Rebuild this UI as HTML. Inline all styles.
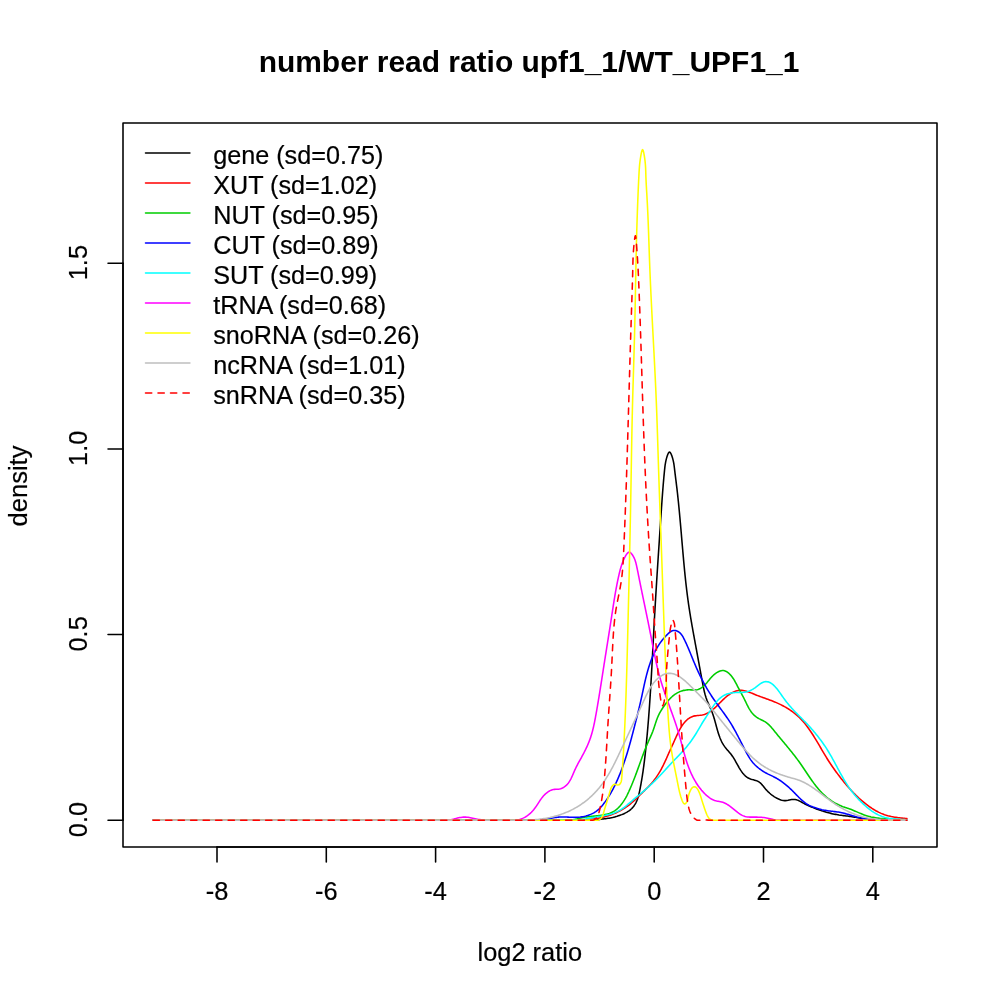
<!DOCTYPE html>
<html lang="en"><head><meta charset="utf-8"><title>number read ratio upf1_1/WT_UPF1_1</title>
<style>html,body{margin:0;padding:0;background:#fff}svg{display:block}</style></head>
<body>
<svg width="1000" height="1000" viewBox="0 0 1000 1000">
<rect width="1000" height="1000" fill="#fff"/>
<g fill="none" stroke-width="1.5625" stroke-linecap="round" stroke-linejoin="round">
<path d="M153.15,820.19 L553.98,820.19 L555.19,820.19 L567.22,820.19 L568.41,820.19 L569.61,820.19 L570.80,820.19 L571.99,820.19 L573.19,820.18 L574.38,820.18 L575.57,820.18 L576.76,820.18 L577.96,820.18 L579.15,820.18 L580.34,820.19 L581.54,820.19 L582.73,820.19 L583.93,820.19 L592.32,820.19 L593.53,820.18 L594.73,820.09 L595.94,819.96 L597.14,819.80 L598.35,819.63 L599.55,819.44 L600.75,819.26 L601.95,819.09 L603.15,818.94 L604.34,818.80 L605.53,818.66 L606.72,818.51 L607.90,818.34 L609.08,818.16 L610.26,817.95 L611.43,817.72 L612.59,817.47 L613.75,817.19 L614.91,816.89 L616.05,816.57 L617.19,816.23 L618.33,815.86 L619.45,815.47 L620.57,815.06 L621.68,814.63 L622.78,814.17 L623.86,813.69 L624.94,813.18 L625.99,812.64 L627.03,812.06 L628.04,811.44 L629.02,810.78 L629.97,810.07 L630.88,809.30 L631.76,808.48 L632.59,807.60 L633.38,806.66 L634.12,805.67 L634.81,804.64 L635.45,803.58 L636.02,802.51 L636.55,801.42 L637.02,800.31 L637.45,799.19 L637.84,798.07 L638.19,796.93 L638.52,795.78 L638.82,794.62 L639.09,793.46 L639.35,792.30 L639.60,791.13 L639.84,789.96 L640.07,788.78 L640.30,787.61 L640.52,786.44 L640.74,785.26 L640.96,784.08 L641.17,782.90 L641.37,781.72 L641.58,780.54 L641.77,779.36 L641.97,778.18 L642.16,777.00 L642.35,775.82 L642.53,774.63 L642.71,773.45 L642.89,772.26 L643.06,771.07 L643.23,769.89 L643.39,768.70 L643.56,767.51 L643.72,766.32 L643.87,765.13 L644.03,763.94 L644.18,762.75 L644.33,761.56 L644.48,760.37 L644.62,759.18 L644.76,757.98 L644.90,756.79 L645.04,755.60 L645.17,754.41 L645.31,753.21 L645.44,752.02 L645.57,750.83 L645.70,749.63 L645.82,748.44 L645.95,747.24 L646.07,746.05 L646.19,744.86 L646.31,743.66 L646.43,742.47 L646.55,741.27 L646.66,740.08 L646.78,738.89 L646.89,737.69 L647.01,736.50 L647.12,735.30 L647.23,734.11 L647.34,732.91 L647.44,731.72 L647.55,730.53 L647.65,729.33 L647.76,728.14 L647.86,726.94 L647.96,725.75 L648.06,724.55 L648.16,723.36 L648.26,722.16 L648.36,720.97 L648.45,719.77 L648.55,718.58 L648.64,717.38 L648.73,716.19 L648.82,715.00 L648.91,713.80 L649.00,712.61 L649.09,711.41 L649.18,710.22 L649.27,709.02 L649.35,707.83 L649.44,706.63 L649.52,705.43 L649.61,704.24 L649.69,703.04 L649.77,701.85 L649.85,700.65 L649.93,699.46 L650.01,698.26 L650.09,697.07 L650.17,695.87 L650.25,694.68 L650.32,693.48 L650.40,692.29 L650.47,691.09 L650.55,689.90 L650.62,688.70 L650.70,687.50 L650.77,686.31 L650.84,685.11 L650.91,683.92 L650.98,682.72 L651.05,681.53 L651.12,680.33 L651.19,679.13 L651.26,677.94 L651.33,676.74 L651.40,675.55 L651.47,674.35 L651.53,673.16 L651.60,671.96 L651.67,670.76 L651.73,669.57 L651.80,668.37 L651.87,667.18 L651.93,665.98 L652.00,664.78 L652.06,663.59 L652.12,662.39 L652.19,661.19 L652.25,660.00 L652.32,658.80 L652.38,657.61 L652.44,656.41 L652.51,655.21 L652.57,654.02 L652.63,652.82 L652.69,651.62 L652.76,650.43 L652.82,649.23 L652.88,648.04 L652.94,646.84 L653.01,645.64 L653.07,644.45 L653.13,643.25 L653.19,642.05 L653.26,640.86 L653.32,639.66 L653.38,638.46 L653.44,637.27 L653.51,636.07 L653.57,634.87 L653.63,633.68 L653.70,632.48 L653.76,631.28 L653.82,630.09 L653.89,628.89 L653.95,627.69 L654.01,626.50 L654.08,625.30 L654.14,624.10 L654.21,622.91 L654.27,621.71 L654.34,620.51 L654.41,619.32 L654.47,618.12 L654.54,616.92 L654.61,615.73 L654.67,614.53 L654.74,613.33 L654.81,612.14 L654.88,610.94 L654.95,609.74 L655.02,608.54 L655.09,607.35 L655.16,606.15 L655.23,604.95 L655.30,603.76 L655.37,602.56 L655.44,601.36 L655.51,600.17 L655.58,598.97 L655.65,597.77 L655.72,596.57 L655.79,595.38 L655.87,594.18 L655.94,592.98 L656.01,591.79 L656.09,590.59 L656.16,589.39 L656.23,588.19 L656.31,587.00 L656.38,585.80 L656.46,584.60 L656.53,583.41 L656.61,582.21 L656.68,581.01 L656.76,579.81 L656.83,578.62 L656.91,577.42 L656.98,576.22 L657.06,575.02 L657.13,573.83 L657.21,572.63 L657.29,571.43 L657.36,570.24 L657.44,569.04 L657.52,567.84 L657.60,566.64 L657.67,565.45 L657.75,564.25 L657.83,563.05 L657.91,561.85 L657.98,560.66 L658.06,559.46 L658.14,558.26 L658.22,557.07 L658.30,555.87 L658.38,554.67 L658.45,553.47 L658.53,552.28 L658.61,551.08 L658.69,549.88 L658.77,548.68 L658.85,547.49 L658.93,546.29 L659.01,545.09 L659.09,543.89 L659.17,542.70 L659.25,541.50 L659.33,540.30 L659.41,539.11 L659.48,537.91 L659.56,536.71 L659.64,535.51 L659.72,534.32 L659.80,533.12 L659.88,531.92 L659.96,530.72 L660.04,529.53 L660.12,528.33 L660.20,527.13 L660.28,525.93 L660.36,524.74 L660.44,523.54 L660.52,522.34 L660.60,521.14 L660.68,519.95 L660.76,518.75 L660.84,517.55 L660.92,516.36 L661.00,515.16 L661.09,513.96 L661.17,512.76 L661.25,511.57 L661.33,510.37 L661.41,509.17 L661.49,507.98 L661.57,506.78 L661.66,505.59 L661.74,504.39 L661.82,503.20 L661.91,502.00 L661.99,500.81 L662.08,499.61 L662.16,498.42 L662.25,497.23 L662.34,496.03 L662.43,494.84 L662.52,493.65 L662.61,492.46 L662.70,491.27 L662.79,490.08 L662.89,488.89 L662.98,487.70 L663.08,486.51 L663.17,485.33 L663.27,484.14 L663.37,482.95 L663.47,481.77 L663.58,480.59 L663.68,479.40 L663.78,478.22 L663.89,477.04 L664.00,475.86 L664.11,474.68 L664.22,473.50 L664.33,472.32 L664.45,471.14 L664.56,469.97 L664.69,468.79 L664.81,467.61 L664.96,466.43 L665.11,465.24 L665.29,464.04 L665.50,462.84 L665.73,461.62 L666.00,460.38 L666.30,459.13 L666.65,457.86 L667.04,456.57 L667.48,455.26 L667.97,454.01 L668.50,452.97 L669.05,452.28 L669.63,452.11 L670.21,452.50 L670.78,453.35 L671.33,454.52 L671.84,455.86 L672.30,457.24 L672.70,458.58 L673.04,459.86 L673.33,461.10 L673.58,462.30 L673.79,463.48 L673.97,464.63 L674.13,465.76 L674.28,466.89 L674.41,468.02 L674.55,469.15 L674.68,470.29 L674.82,471.45 L674.96,472.61 L675.11,473.78 L675.25,474.96 L675.40,476.15 L675.55,477.34 L675.70,478.54 L675.85,479.74 L676.00,480.95 L676.15,482.16 L676.30,483.36 L676.45,484.57 L676.60,485.78 L676.74,486.99 L676.89,488.19 L677.03,489.39 L677.17,490.59 L677.30,491.78 L677.44,492.97 L677.57,494.17 L677.70,495.36 L677.83,496.54 L677.95,497.73 L678.08,498.92 L678.20,500.10 L678.33,501.29 L678.45,502.47 L678.57,503.66 L678.68,504.84 L678.80,506.03 L678.92,507.21 L679.03,508.40 L679.15,509.59 L679.26,510.77 L679.37,511.96 L679.48,513.15 L679.59,514.34 L679.70,515.54 L679.81,516.73 L679.92,517.92 L680.03,519.11 L680.14,520.31 L680.24,521.50 L680.35,522.70 L680.46,523.89 L680.56,525.09 L680.67,526.28 L680.77,527.48 L680.87,528.68 L680.98,529.88 L681.08,531.07 L681.18,532.27 L681.29,533.47 L681.39,534.67 L681.49,535.87 L681.59,537.07 L681.70,538.26 L681.80,539.46 L681.90,540.66 L682.00,541.86 L682.11,543.06 L682.21,544.26 L682.31,545.46 L682.42,546.66 L682.52,547.86 L682.62,549.05 L682.73,550.25 L682.83,551.45 L682.94,552.65 L683.04,553.84 L683.15,555.04 L683.25,556.24 L683.36,557.43 L683.47,558.63 L683.57,559.82 L683.68,561.02 L683.79,562.21 L683.90,563.40 L684.01,564.60 L684.12,565.79 L684.24,566.98 L684.35,568.18 L684.47,569.37 L684.58,570.56 L684.70,571.75 L684.82,572.94 L684.94,574.13 L685.06,575.32 L685.18,576.51 L685.31,577.70 L685.43,578.89 L685.56,580.08 L685.69,581.27 L685.82,582.46 L685.95,583.64 L686.08,584.83 L686.22,586.02 L686.36,587.21 L686.50,588.39 L686.64,589.58 L686.78,590.77 L686.93,591.95 L687.08,593.14 L687.23,594.32 L687.38,595.51 L687.53,596.69 L687.69,597.88 L687.85,599.06 L688.01,600.25 L688.18,601.43 L688.34,602.62 L688.51,603.80 L688.68,604.99 L688.86,606.17 L689.04,607.35 L689.22,608.54 L689.40,609.72 L689.58,610.91 L689.77,612.09 L689.96,613.27 L690.15,614.46 L690.34,615.64 L690.54,616.82 L690.73,618.01 L690.93,619.19 L691.13,620.37 L691.34,621.55 L691.54,622.74 L691.74,623.92 L691.95,625.10 L692.16,626.28 L692.37,627.47 L692.58,628.65 L692.79,629.83 L693.00,631.02 L693.21,632.20 L693.43,633.38 L693.64,634.56 L693.86,635.75 L694.08,636.93 L694.29,638.11 L694.51,639.30 L694.73,640.48 L694.95,641.66 L695.16,642.85 L695.38,644.03 L695.60,645.21 L695.82,646.40 L696.04,647.58 L696.26,648.76 L696.48,649.95 L696.70,651.13 L696.91,652.31 L697.13,653.50 L697.35,654.68 L697.56,655.87 L697.78,657.05 L698.00,658.24 L698.21,659.42 L698.43,660.60 L698.65,661.79 L698.86,662.97 L699.08,664.15 L699.29,665.33 L699.51,666.52 L699.73,667.70 L699.94,668.88 L700.16,670.05 L700.38,671.23 L700.59,672.41 L700.81,673.58 L701.03,674.76 L701.25,675.93 L701.47,677.11 L701.69,678.28 L701.91,679.45 L702.13,680.61 L702.35,681.78 L702.57,682.95 L702.79,684.11 L703.02,685.27 L703.25,686.43 L703.48,687.59 L703.72,688.75 L703.97,689.90 L704.23,691.05 L704.50,692.20 L704.79,693.35 L705.09,694.50 L705.42,695.64 L705.77,696.78 L706.14,697.92 L706.54,699.05 L706.96,700.19 L707.42,701.32 L707.89,702.44 L708.38,703.57 L708.88,704.69 L709.39,705.82 L709.90,706.94 L710.40,708.06 L710.89,709.18 L711.36,710.31 L711.81,711.43 L712.24,712.55 L712.65,713.67 L713.03,714.80 L713.41,715.93 L713.77,717.06 L714.11,718.19 L714.45,719.32 L714.77,720.46 L715.09,721.60 L715.40,722.74 L715.72,723.89 L716.03,725.04 L716.34,726.20 L716.65,727.36 L716.97,728.52 L717.30,729.68 L717.63,730.85 L717.98,732.00 L718.34,733.16 L718.71,734.31 L719.10,735.45 L719.51,736.58 L719.93,737.70 L720.38,738.82 L720.86,739.92 L721.36,741.00 L721.89,742.07 L722.45,743.12 L723.04,744.16 L723.67,745.17 L724.33,746.16 L725.03,747.13 L725.76,748.08 L726.53,749.01 L727.32,749.92 L728.12,750.83 L728.92,751.73 L729.70,752.65 L730.47,753.57 L731.21,754.51 L731.92,755.46 L732.60,756.44 L733.25,757.43 L733.87,758.44 L734.48,759.45 L735.08,760.48 L735.67,761.52 L736.25,762.56 L736.82,763.61 L737.40,764.66 L737.99,765.71 L738.59,766.76 L739.19,767.81 L739.82,768.85 L740.47,769.89 L741.14,770.91 L741.84,771.92 L742.58,772.89 L743.34,773.83 L744.15,774.73 L744.99,775.57 L745.88,776.36 L746.82,777.08 L747.81,777.72 L748.85,778.29 L749.94,778.76 L751.08,779.17 L752.25,779.52 L753.43,779.84 L754.60,780.16 L755.75,780.50 L756.86,780.88 L757.93,781.33 L758.93,781.87 L759.88,782.53 L760.76,783.32 L761.58,784.19 L762.38,785.13 L763.16,786.10 L763.93,787.08 L764.71,788.03 L765.51,788.97 L766.32,789.88 L767.15,790.76 L767.99,791.61 L768.85,792.44 L769.73,793.24 L770.63,794.02 L771.54,794.76 L772.48,795.47 L773.44,796.15 L774.43,796.80 L775.44,797.41 L776.47,797.99 L777.53,798.53 L778.62,799.04 L779.73,799.52 L780.87,799.93 L782.03,800.28 L783.21,800.52 L784.40,800.65 L785.61,800.65 L786.82,800.51 L788.03,800.30 L789.25,800.05 L790.45,799.80 L791.65,799.59 L792.84,799.46 L794.02,799.43 L795.17,799.53 L796.30,799.77 L797.42,800.13 L798.52,800.57 L799.61,801.09 L800.69,801.66 L801.76,802.26 L802.82,802.85 L803.88,803.43 L804.95,803.98 L806.01,804.51 L807.08,805.01 L808.15,805.50 L809.24,805.99 L810.33,806.47 L811.43,806.94 L812.54,807.40 L813.65,807.85 L814.78,808.30 L815.90,808.74 L817.04,809.16 L818.17,809.58 L819.31,809.98 L820.46,810.38 L821.61,810.76 L822.76,811.13 L823.91,811.49 L825.06,811.84 L826.22,812.17 L827.37,812.49 L828.53,812.80 L829.69,813.10 L830.86,813.38 L832.02,813.65 L833.18,813.91 L834.35,814.15 L835.52,814.38 L836.69,814.60 L837.86,814.80 L839.03,815.00 L840.21,815.17 L841.38,815.34 L842.56,815.49 L843.74,815.64 L844.91,815.78 L846.09,815.91 L847.28,816.06 L848.46,816.21 L849.64,816.37 L850.82,816.54 L852.01,816.72 L853.20,816.92 L854.38,817.13 L855.57,817.34 L856.76,817.55 L857.95,817.77 L859.14,817.98 L860.33,818.19 L861.52,818.40 L862.71,818.59 L863.91,818.78 L865.10,818.95 L866.29,819.10 L867.49,819.24 L868.68,819.36 L869.88,819.47 L871.07,819.57 L872.27,819.66 L873.46,819.74 L874.66,819.80 L875.86,819.86 L877.05,819.91 L878.25,819.95 L879.45,819.99 L880.65,820.02 L881.84,820.05 L883.04,820.07 L884.24,820.09 L885.43,820.11 L886.63,820.12 L887.83,820.14 L889.03,820.16 L890.22,820.18 L891.42,820.19 L899.79,820.19 L900.98,820.18 L906.85,820.19" stroke="#000000"/>
<path d="M153.15,820.19 L544.20,820.19 L545.40,820.17 L546.60,820.15 L547.79,820.13 L548.99,820.12 L550.19,820.12 L551.39,820.12 L552.59,820.12 L553.78,820.13 L554.98,820.14 L556.18,820.15 L557.38,820.17 L558.58,820.18 L559.78,820.19 L577.78,820.19 L578.97,820.16 L580.17,820.11 L581.37,820.05 L582.56,819.99 L583.76,819.91 L584.95,819.83 L586.14,819.74 L587.34,819.64 L588.53,819.53 L589.72,819.41 L590.91,819.27 L592.10,819.13 L593.29,818.97 L594.48,818.80 L595.66,818.62 L596.85,818.43 L598.03,818.22 L599.21,818.00 L600.39,817.76 L601.56,817.51 L602.73,817.25 L603.90,816.96 L605.06,816.66 L606.22,816.35 L607.37,816.02 L608.52,815.67 L609.66,815.30 L610.79,814.91 L611.92,814.50 L613.04,814.07 L614.15,813.63 L615.25,813.16 L616.35,812.67 L617.43,812.16 L618.51,811.63 L619.57,811.08 L620.63,810.51 L621.68,809.92 L622.71,809.31 L623.73,808.69 L624.74,808.04 L625.74,807.37 L626.72,806.69 L627.70,805.99 L628.65,805.27 L629.60,804.54 L630.53,803.79 L631.45,803.02 L632.35,802.24 L633.25,801.44 L634.14,800.64 L635.02,799.83 L635.89,799.00 L636.76,798.17 L637.62,797.34 L638.48,796.50 L639.34,795.65 L640.19,794.81 L641.04,793.96 L641.90,793.11 L642.76,792.27 L643.62,791.42 L644.48,790.58 L645.34,789.74 L646.20,788.90 L647.06,788.06 L647.91,787.21 L648.75,786.35 L649.58,785.48 L650.39,784.61 L651.19,783.72 L651.98,782.82 L652.74,781.90 L653.50,780.98 L654.23,780.04 L654.95,779.09 L655.65,778.12 L656.34,777.15 L657.02,776.16 L657.67,775.17 L658.32,774.16 L658.95,773.15 L659.56,772.13 L660.16,771.10 L660.75,770.06 L661.33,769.01 L661.89,767.96 L662.44,766.90 L662.98,765.83 L663.51,764.76 L664.03,763.68 L664.54,762.60 L665.04,761.51 L665.54,760.42 L666.04,759.32 L666.54,758.22 L667.03,757.12 L667.52,756.01 L668.01,754.91 L668.51,753.80 L669.00,752.69 L669.50,751.58 L670.00,750.47 L670.51,749.36 L671.01,748.25 L671.51,747.14 L672.02,746.03 L672.52,744.92 L673.02,743.82 L673.52,742.72 L674.02,741.62 L674.52,740.53 L675.01,739.44 L675.50,738.35 L675.99,737.27 L676.48,736.19 L676.96,735.12 L677.46,734.06 L677.96,733.00 L678.47,731.95 L679.00,730.90 L679.54,729.87 L680.11,728.84 L680.70,727.82 L681.32,726.81 L681.97,725.81 L682.65,724.82 L683.37,723.84 L684.12,722.89 L684.91,721.97 L685.74,721.08 L686.61,720.24 L687.51,719.45 L688.46,718.71 L689.45,718.04 L690.48,717.44 L691.55,716.91 L692.65,716.47 L693.79,716.12 L694.95,715.86 L696.13,715.68 L697.33,715.54 L698.53,715.43 L699.74,715.32 L700.93,715.18 L702.12,714.99 L703.29,714.73 L704.43,714.39 L705.56,713.99 L706.66,713.53 L707.74,713.01 L708.79,712.43 L709.81,711.81 L710.80,711.14 L711.77,710.44 L712.71,709.70 L713.64,708.93 L714.54,708.13 L715.42,707.31 L716.29,706.48 L717.16,705.63 L718.01,704.77 L718.86,703.92 L719.70,703.06 L720.55,702.20 L721.40,701.34 L722.25,700.50 L723.11,699.66 L723.98,698.84 L724.86,698.03 L725.76,697.24 L726.68,696.46 L727.62,695.71 L728.58,694.99 L729.56,694.29 L730.57,693.63 L731.62,693.00 L732.68,692.41 L733.77,691.89 L734.88,691.42 L736.01,691.03 L737.15,690.72 L738.31,690.50 L739.47,690.38 L740.64,690.35 L741.82,690.40 L742.99,690.53 L744.16,690.72 L745.33,690.98 L746.48,691.29 L747.62,691.64 L748.75,692.03 L749.87,692.44 L750.99,692.89 L752.11,693.34 L753.22,693.81 L754.33,694.27 L755.45,694.73 L756.57,695.17 L757.70,695.61 L758.83,696.04 L759.96,696.46 L761.09,696.87 L762.23,697.29 L763.37,697.69 L764.50,698.10 L765.64,698.51 L766.78,698.91 L767.91,699.32 L769.04,699.74 L770.17,700.16 L771.30,700.58 L772.43,701.01 L773.55,701.45 L774.66,701.91 L775.78,702.37 L776.88,702.85 L777.98,703.34 L779.07,703.84 L780.16,704.36 L781.24,704.90 L782.30,705.45 L783.36,706.01 L784.42,706.59 L785.46,707.18 L786.49,707.78 L787.51,708.40 L788.51,709.03 L789.51,709.68 L790.49,710.33 L791.46,711.00 L792.42,711.69 L793.36,712.38 L794.29,713.10 L795.21,713.83 L796.11,714.57 L797.01,715.34 L797.89,716.12 L798.75,716.93 L799.61,717.75 L800.45,718.60 L801.28,719.47 L802.10,720.36 L802.91,721.26 L803.70,722.18 L804.49,723.12 L805.26,724.07 L806.02,725.03 L806.77,726.00 L807.50,726.99 L808.23,727.98 L808.94,728.97 L809.64,729.97 L810.33,730.98 L811.01,731.98 L811.68,732.99 L812.34,734.00 L813.00,735.01 L813.64,736.03 L814.27,737.04 L814.90,738.06 L815.52,739.08 L816.14,740.10 L816.75,741.12 L817.36,742.14 L817.96,743.16 L818.56,744.18 L819.16,745.20 L819.76,746.23 L820.35,747.25 L820.95,748.27 L821.54,749.30 L822.14,750.32 L822.74,751.34 L823.34,752.36 L823.94,753.38 L824.55,754.40 L825.16,755.42 L825.78,756.44 L826.40,757.45 L827.03,758.47 L827.66,759.48 L828.31,760.49 L828.96,761.50 L829.61,762.50 L830.28,763.51 L830.95,764.51 L831.62,765.51 L832.30,766.51 L832.99,767.50 L833.69,768.49 L834.39,769.48 L835.09,770.46 L835.80,771.44 L836.52,772.42 L837.24,773.39 L837.96,774.36 L838.69,775.33 L839.43,776.29 L840.17,777.25 L840.91,778.20 L841.66,779.15 L842.41,780.09 L843.16,781.03 L843.92,781.96 L844.68,782.89 L845.45,783.81 L846.22,784.73 L847.00,785.64 L847.78,786.54 L848.56,787.44 L849.35,788.33 L850.15,789.22 L850.95,790.10 L851.76,790.98 L852.58,791.84 L853.40,792.70 L854.23,793.56 L855.07,794.40 L855.92,795.24 L856.77,796.07 L857.63,796.90 L858.50,797.71 L859.38,798.52 L860.27,799.32 L861.17,800.11 L862.07,800.89 L862.99,801.67 L863.92,802.43 L864.85,803.19 L865.80,803.94 L866.76,804.68 L867.73,805.41 L868.71,806.12 L869.70,806.82 L870.70,807.51 L871.70,808.19 L872.72,808.84 L873.75,809.48 L874.79,810.10 L875.83,810.70 L876.89,811.28 L877.95,811.84 L879.02,812.38 L880.10,812.89 L881.19,813.38 L882.29,813.84 L883.39,814.27 L884.51,814.68 L885.63,815.06 L886.76,815.40 L887.89,815.73 L889.03,816.02 L890.18,816.29 L891.34,816.55 L892.50,816.78 L893.67,816.99 L894.85,817.18 L896.03,817.36 L897.22,817.53 L898.42,817.69 L899.62,817.84 L900.82,817.97 L902.03,818.11 L903.25,818.23 L904.47,818.36 L905.70,818.48 L906.93,818.61" stroke="#FF0000"/>
<path d="M153.15,820.19 L532.03,820.18 L533.21,820.19 L545.16,820.19 L546.37,820.18 L547.58,820.18 L548.79,820.17 L550.00,820.17 L551.21,820.16 L552.42,820.16 L553.63,820.16 L554.84,820.16 L556.05,820.16 L557.25,820.17 L558.45,820.18 L559.65,820.19 L560.85,820.19 L569.14,820.19 L570.32,820.19 L571.49,820.08 L572.67,819.91 L573.84,819.70 L575.01,819.44 L576.18,819.15 L577.35,818.85 L578.52,818.54 L579.69,818.24 L580.87,817.97 L582.04,817.72 L583.22,817.49 L584.39,817.29 L585.57,817.10 L586.76,816.93 L587.94,816.77 L589.13,816.62 L590.32,816.48 L591.52,816.35 L592.72,816.23 L593.92,816.11 L595.13,815.98 L596.34,815.86 L597.55,815.73 L598.76,815.59 L599.97,815.44 L601.18,815.27 L602.38,815.09 L603.57,814.88 L604.75,814.64 L605.91,814.37 L607.07,814.08 L608.21,813.74 L609.33,813.37 L610.43,812.95 L611.51,812.49 L612.57,811.98 L613.61,811.42 L614.61,810.80 L615.59,810.12 L616.54,809.38 L617.46,808.59 L618.35,807.76 L619.21,806.89 L620.04,805.99 L620.83,805.06 L621.60,804.11 L622.32,803.14 L623.02,802.16 L623.69,801.16 L624.33,800.16 L624.94,799.14 L625.53,798.12 L626.10,797.08 L626.66,796.04 L627.19,794.99 L627.71,793.92 L628.22,792.85 L628.73,791.78 L629.22,790.69 L629.71,789.60 L630.19,788.50 L630.67,787.40 L631.15,786.29 L631.62,785.18 L632.08,784.06 L632.54,782.94 L632.99,781.82 L633.44,780.69 L633.89,779.56 L634.33,778.43 L634.77,777.30 L635.20,776.17 L635.63,775.04 L636.06,773.90 L636.48,772.77 L636.89,771.64 L637.31,770.51 L637.72,769.38 L638.12,768.26 L638.53,767.13 L638.93,766.01 L639.33,764.89 L639.73,763.77 L640.14,762.65 L640.54,761.53 L640.94,760.42 L641.34,759.30 L641.75,758.19 L642.15,757.07 L642.56,755.96 L642.98,754.85 L643.40,753.74 L643.82,752.62 L644.24,751.51 L644.68,750.40 L645.12,749.29 L645.56,748.18 L646.01,747.07 L646.47,745.96 L646.94,744.85 L647.42,743.74 L647.90,742.62 L648.40,741.51 L648.90,740.40 L649.40,739.29 L649.90,738.17 L650.39,737.06 L650.89,735.94 L651.37,734.83 L651.84,733.71 L652.30,732.59 L652.75,731.47 L653.17,730.35 L653.57,729.23 L653.96,728.11 L654.33,726.98 L654.69,725.86 L655.04,724.74 L655.40,723.62 L655.76,722.50 L656.13,721.38 L656.51,720.27 L656.92,719.17 L657.34,718.06 L657.80,716.97 L658.28,715.88 L658.78,714.79 L659.32,713.72 L659.88,712.65 L660.46,711.59 L661.08,710.55 L661.72,709.51 L662.38,708.48 L663.06,707.47 L663.75,706.47 L664.46,705.48 L665.17,704.50 L665.89,703.54 L666.61,702.59 L667.35,701.66 L668.11,700.75 L668.89,699.85 L669.70,698.98 L670.54,698.12 L671.41,697.28 L672.32,696.47 L673.25,695.68 L674.22,694.93 L675.21,694.22 L676.23,693.55 L677.26,692.93 L678.33,692.35 L679.41,691.83 L680.51,691.37 L681.63,690.97 L682.76,690.63 L683.91,690.36 L685.07,690.15 L686.24,689.99 L687.42,689.89 L688.61,689.84 L689.80,689.83 L691.00,689.87 L692.20,689.92 L693.40,689.96 L694.59,689.96 L695.76,689.90 L696.92,689.75 L698.06,689.47 L699.18,689.07 L700.26,688.54 L701.31,687.91 L702.33,687.19 L703.30,686.41 L704.22,685.57 L705.09,684.71 L705.92,683.82 L706.71,682.92 L707.47,682.01 L708.22,681.09 L708.96,680.17 L709.70,679.25 L710.45,678.35 L711.23,677.45 L712.03,676.58 L712.88,675.74 L713.77,674.92 L714.70,674.14 L715.68,673.40 L716.71,672.70 L717.79,672.06 L718.90,671.51 L720.03,671.05 L721.17,670.73 L722.32,670.56 L723.45,670.57 L724.55,670.77 L725.63,671.16 L726.68,671.70 L727.68,672.37 L728.64,673.14 L729.55,673.99 L730.41,674.87 L731.21,675.79 L731.97,676.73 L732.68,677.70 L733.35,678.69 L733.99,679.70 L734.60,680.73 L735.19,681.77 L735.76,682.82 L736.32,683.88 L736.87,684.95 L737.42,686.02 L737.97,687.09 L738.52,688.16 L739.09,689.22 L739.66,690.29 L740.23,691.35 L740.80,692.41 L741.38,693.47 L741.95,694.53 L742.51,695.59 L743.07,696.65 L743.62,697.71 L744.16,698.77 L744.69,699.83 L745.21,700.89 L745.72,701.95 L746.23,703.01 L746.74,704.08 L747.26,705.15 L747.81,706.22 L748.38,707.28 L748.97,708.35 L749.60,709.40 L750.25,710.43 L750.94,711.45 L751.66,712.43 L752.42,713.38 L753.22,714.29 L754.06,715.15 L754.94,715.96 L755.87,716.71 L756.84,717.40 L757.86,718.03 L758.91,718.62 L759.99,719.17 L761.07,719.70 L762.16,720.23 L763.24,720.77 L764.30,721.34 L765.32,721.94 L766.30,722.60 L767.24,723.32 L768.14,724.08 L769.01,724.89 L769.85,725.73 L770.66,726.60 L771.45,727.50 L772.23,728.42 L773.00,729.35 L773.76,730.29 L774.52,731.23 L775.28,732.17 L776.04,733.10 L776.80,734.04 L777.57,734.97 L778.33,735.89 L779.10,736.82 L779.87,737.74 L780.64,738.67 L781.40,739.59 L782.17,740.51 L782.94,741.43 L783.71,742.35 L784.47,743.27 L785.24,744.19 L786.00,745.11 L786.77,746.03 L787.53,746.95 L788.29,747.88 L789.05,748.80 L789.80,749.73 L790.55,750.66 L791.30,751.59 L792.05,752.52 L792.79,753.46 L793.53,754.39 L794.27,755.34 L795.00,756.28 L795.73,757.23 L796.45,758.18 L797.17,759.14 L797.88,760.10 L798.59,761.07 L799.29,762.04 L799.99,763.02 L800.68,764.00 L801.37,764.99 L802.05,765.98 L802.73,766.97 L803.40,767.97 L804.07,768.97 L804.75,769.98 L805.41,770.98 L806.08,771.98 L806.75,772.99 L807.42,773.99 L808.09,774.99 L808.77,775.99 L809.44,776.99 L810.12,777.98 L810.81,778.97 L811.50,779.96 L812.19,780.94 L812.89,781.91 L813.60,782.88 L814.31,783.84 L815.04,784.79 L815.77,785.74 L816.51,786.68 L817.26,787.60 L818.02,788.52 L818.80,789.43 L819.59,790.32 L820.38,791.20 L821.20,792.07 L822.03,792.93 L822.87,793.77 L823.73,794.60 L824.60,795.41 L825.49,796.21 L826.40,796.99 L827.33,797.75 L828.27,798.50 L829.24,799.23 L830.22,799.93 L831.21,800.62 L832.23,801.29 L833.25,801.94 L834.29,802.56 L835.34,803.16 L836.41,803.74 L837.48,804.29 L838.56,804.82 L839.65,805.32 L840.75,805.79 L841.85,806.24 L842.96,806.66 L844.07,807.05 L845.19,807.43 L846.31,807.80 L847.42,808.16 L848.54,808.54 L849.66,808.93 L850.77,809.34 L851.89,809.77 L853.00,810.23 L854.11,810.69 L855.22,811.17 L856.33,811.65 L857.44,812.14 L858.56,812.63 L859.67,813.11 L860.79,813.58 L861.91,814.04 L863.04,814.48 L864.17,814.90 L865.31,815.30 L866.45,815.67 L867.60,816.02 L868.75,816.34 L869.91,816.63 L871.07,816.91 L872.24,817.16 L873.41,817.39 L874.58,817.60 L875.76,817.79 L876.94,817.97 L878.13,818.13 L879.31,818.28 L880.50,818.41 L881.70,818.53 L882.89,818.64 L884.09,818.74 L885.29,818.83 L886.49,818.91 L887.69,818.99 L888.89,819.06 L890.09,819.12 L891.29,819.19 L892.50,819.25 L893.70,819.30 L894.90,819.36 L896.10,819.42 L897.31,819.49 L898.50,819.55 L899.70,819.62 L900.90,819.70 L902.09,819.78 L903.29,819.87 L904.48,819.97 L905.66,820.08 L906.85,820.19 L906.85,820.19" stroke="#00CD00"/>
<path d="M153.15,820.19 L500.00,820.18 L501.20,820.19 L513.19,820.19 L514.39,820.19 L515.58,820.18 L516.78,820.17 L517.98,820.16 L519.18,820.16 L520.38,820.15 L521.58,820.15 L522.78,820.15 L523.98,820.15 L525.17,820.16 L526.37,820.17 L527.57,820.18 L528.77,820.19 L538.36,820.19 L539.56,820.14 L540.75,820.04 L541.94,819.90 L543.13,819.74 L544.32,819.56 L545.50,819.35 L546.69,819.13 L547.87,818.90 L549.05,818.67 L550.24,818.44 L551.42,818.20 L552.60,817.98 L553.78,817.76 L554.97,817.56 L556.15,817.38 L557.33,817.23 L558.52,817.10 L559.70,817.01 L560.89,816.95 L562.07,816.92 L563.26,816.93 L564.45,816.95 L565.64,817.00 L566.83,817.06 L568.03,817.12 L569.23,817.19 L570.43,817.25 L571.63,817.30 L572.84,817.34 L574.04,817.36 L575.26,817.36 L576.47,817.32 L577.69,817.26 L578.90,817.17 L580.11,817.04 L581.32,816.88 L582.52,816.69 L583.72,816.47 L584.90,816.21 L586.07,815.92 L587.23,815.59 L588.38,815.22 L589.51,814.82 L590.62,814.38 L591.71,813.90 L592.77,813.38 L593.82,812.82 L594.84,812.21 L595.83,811.57 L596.79,810.88 L597.72,810.15 L598.62,809.38 L599.49,808.57 L600.33,807.72 L601.14,806.84 L601.94,805.94 L602.71,805.01 L603.46,804.06 L604.19,803.09 L604.91,802.12 L605.62,801.13 L606.31,800.14 L606.99,799.13 L607.65,798.13 L608.31,797.11 L608.95,796.09 L609.58,795.06 L610.20,794.02 L610.81,792.98 L611.41,791.93 L612.00,790.88 L612.57,789.82 L613.14,788.76 L613.69,787.69 L614.24,786.62 L614.78,785.54 L615.30,784.46 L615.82,783.37 L616.33,782.28 L616.83,781.19 L617.32,780.09 L617.81,778.99 L618.28,777.89 L618.75,776.78 L619.21,775.67 L619.67,774.56 L620.12,773.45 L620.56,772.34 L620.99,771.22 L621.42,770.10 L621.84,768.98 L622.25,767.86 L622.66,766.74 L623.06,765.61 L623.46,764.49 L623.85,763.36 L624.24,762.23 L624.62,761.10 L625.00,759.97 L625.37,758.84 L625.74,757.70 L626.10,756.57 L626.46,755.43 L626.81,754.29 L627.16,753.15 L627.51,752.01 L627.85,750.86 L628.19,749.72 L628.52,748.57 L628.85,747.43 L629.18,746.28 L629.51,745.13 L629.83,743.98 L630.15,742.83 L630.47,741.68 L630.78,740.53 L631.10,739.37 L631.41,738.22 L631.72,737.06 L632.02,735.90 L632.33,734.75 L632.63,733.59 L632.94,732.43 L633.24,731.27 L633.54,730.11 L633.84,728.95 L634.14,727.78 L634.44,726.62 L634.74,725.46 L635.03,724.29 L635.33,723.13 L635.63,721.96 L635.93,720.80 L636.23,719.63 L636.52,718.46 L636.82,717.29 L637.11,716.13 L637.41,714.96 L637.70,713.79 L637.99,712.62 L638.28,711.45 L638.56,710.28 L638.85,709.11 L639.13,707.94 L639.41,706.77 L639.69,705.60 L639.96,704.42 L640.24,703.25 L640.51,702.08 L640.77,700.91 L641.03,699.74 L641.29,698.57 L641.55,697.40 L641.80,696.22 L642.05,695.05 L642.30,693.88 L642.55,692.71 L642.80,691.54 L643.05,690.37 L643.30,689.20 L643.55,688.02 L643.80,686.85 L644.06,685.68 L644.31,684.51 L644.57,683.34 L644.84,682.17 L645.10,681.00 L645.38,679.84 L645.65,678.67 L645.94,677.50 L646.23,676.33 L646.52,675.17 L646.83,674.00 L647.14,672.84 L647.46,671.67 L647.79,670.52 L648.12,669.36 L648.47,668.20 L648.82,667.05 L649.19,665.91 L649.56,664.77 L649.95,663.63 L650.34,662.50 L650.75,661.37 L651.17,660.25 L651.60,659.13 L652.05,658.02 L652.51,656.92 L652.98,655.82 L653.46,654.74 L653.96,653.66 L654.48,652.58 L655.01,651.52 L655.55,650.47 L656.11,649.42 L656.69,648.39 L657.29,647.36 L657.90,646.35 L658.53,645.35 L659.17,644.36 L659.84,643.38 L660.52,642.41 L661.23,641.45 L661.95,640.51 L662.69,639.58 L663.46,638.66 L664.24,637.76 L665.05,636.87 L665.87,635.98 L666.71,635.11 L667.57,634.23 L668.45,633.37 L669.36,632.56 L670.30,631.83 L671.29,631.23 L672.33,630.79 L673.43,630.54 L674.57,630.48 L675.72,630.62 L676.85,630.96 L677.95,631.47 L678.99,632.13 L679.95,632.90 L680.80,633.75 L681.55,634.68 L682.23,635.66 L682.85,636.69 L683.43,637.74 L683.98,638.81 L684.52,639.89 L685.04,640.97 L685.56,642.06 L686.07,643.15 L686.57,644.24 L687.06,645.34 L687.54,646.44 L688.01,647.54 L688.48,648.64 L688.95,649.75 L689.41,650.86 L689.87,651.97 L690.32,653.08 L690.77,654.19 L691.22,655.30 L691.67,656.41 L692.12,657.53 L692.58,658.64 L693.03,659.75 L693.48,660.86 L693.94,661.96 L694.40,663.07 L694.87,664.17 L695.34,665.27 L695.81,666.37 L696.29,667.47 L696.78,668.56 L697.27,669.65 L697.76,670.74 L698.26,671.83 L698.76,672.91 L699.27,674.00 L699.79,675.08 L700.31,676.15 L700.84,677.22 L701.37,678.29 L701.91,679.36 L702.46,680.42 L703.01,681.48 L703.58,682.54 L704.14,683.60 L704.72,684.65 L705.30,685.69 L705.89,686.74 L706.49,687.78 L707.09,688.81 L707.71,689.84 L708.33,690.87 L708.96,691.89 L709.59,692.91 L710.23,693.93 L710.88,694.94 L711.54,695.95 L712.20,696.95 L712.88,697.95 L713.55,698.94 L714.24,699.93 L714.93,700.92 L715.62,701.90 L716.32,702.87 L717.02,703.85 L717.73,704.82 L718.44,705.79 L719.15,706.76 L719.86,707.72 L720.57,708.69 L721.28,709.66 L722.00,710.62 L722.70,711.59 L723.41,712.56 L724.11,713.53 L724.81,714.50 L725.51,715.47 L726.20,716.45 L726.88,717.43 L727.55,718.41 L728.22,719.40 L728.88,720.40 L729.53,721.40 L730.18,722.40 L730.81,723.41 L731.43,724.43 L732.04,725.45 L732.65,726.48 L733.25,727.51 L733.84,728.55 L734.42,729.59 L735.00,730.63 L735.57,731.69 L736.14,732.74 L736.70,733.80 L737.26,734.86 L737.82,735.93 L738.37,737.00 L738.93,738.07 L739.48,739.14 L740.03,740.22 L740.58,741.30 L741.13,742.38 L741.68,743.47 L742.23,744.55 L742.78,745.63 L743.33,746.71 L743.88,747.78 L744.43,748.86 L744.99,749.92 L745.54,750.98 L746.10,752.04 L746.66,753.08 L747.23,754.12 L747.80,755.15 L748.39,756.17 L748.99,757.17 L749.62,758.17 L750.27,759.15 L750.94,760.11 L751.65,761.06 L752.39,761.99 L753.16,762.91 L753.97,763.81 L754.81,764.69 L755.68,765.55 L756.57,766.38 L757.49,767.19 L758.44,767.98 L759.40,768.75 L760.38,769.48 L761.38,770.19 L762.40,770.87 L763.42,771.52 L764.46,772.14 L765.51,772.73 L766.57,773.29 L767.63,773.84 L768.70,774.36 L769.76,774.88 L770.83,775.39 L771.90,775.90 L772.96,776.42 L774.01,776.95 L775.06,777.49 L776.09,778.05 L777.12,778.63 L778.13,779.24 L779.14,779.87 L780.13,780.52 L781.11,781.19 L782.08,781.88 L783.04,782.59 L783.99,783.31 L784.94,784.06 L785.87,784.82 L786.79,785.59 L787.71,786.38 L788.61,787.18 L789.51,788.00 L790.40,788.82 L791.28,789.66 L792.15,790.51 L793.02,791.36 L793.88,792.22 L794.73,793.09 L795.58,793.97 L796.42,794.84 L797.27,795.71 L798.11,796.58 L798.96,797.43 L799.82,798.28 L800.68,799.11 L801.56,799.92 L802.45,800.71 L803.35,801.47 L804.27,802.21 L805.21,802.91 L806.17,803.58 L807.15,804.21 L808.16,804.80 L809.20,805.35 L810.27,805.86 L811.35,806.33 L812.46,806.78 L813.59,807.20 L814.73,807.60 L815.89,807.98 L817.06,808.36 L818.23,808.71 L819.42,809.05 L820.61,809.36 L821.80,809.66 L822.99,809.92 L824.18,810.16 L825.37,810.37 L826.56,810.56 L827.74,810.74 L828.92,810.90 L830.10,811.05 L831.28,811.19 L832.46,811.33 L833.64,811.47 L834.81,811.61 L835.98,811.76 L837.15,811.92 L838.32,812.10 L839.49,812.29 L840.66,812.51 L841.82,812.75 L842.99,813.02 L844.15,813.31 L845.32,813.62 L846.48,813.94 L847.64,814.27 L848.80,814.62 L849.97,814.96 L851.13,815.31 L852.29,815.66 L853.45,816.00 L854.62,816.34 L855.78,816.66 L856.94,816.98 L858.11,817.27 L859.28,817.54 L860.44,817.80 L861.61,818.04 L862.78,818.26 L863.95,818.47 L865.13,818.66 L866.30,818.84 L867.48,819.00 L868.66,819.15 L869.84,819.29 L871.02,819.41 L872.21,819.52 L873.40,819.62 L874.59,819.71 L875.78,819.79 L876.98,819.87 L878.18,819.93 L879.38,819.99 L880.58,820.03 L881.79,820.07 L882.99,820.11 L884.20,820.14 L885.40,820.16 L886.61,820.18 L887.82,820.19 L889.02,820.19 L898.61,820.19 L899.80,820.19 L900.99,820.19 L906.85,820.19" stroke="#0000FF"/>
<path d="M153.15,820.19 L539.96,820.18 L541.17,820.19 L550.82,820.19 L552.02,820.19 L553.22,820.18 L554.42,820.17 L555.62,820.16 L556.81,820.15 L558.01,820.14 L559.20,820.14 L560.39,820.14 L561.59,820.14 L562.78,820.15 L563.97,820.17 L565.16,820.18 L566.35,820.19 L577.05,820.19 L578.24,820.16 L579.43,820.06 L580.62,819.93 L581.81,819.76 L583.00,819.56 L584.19,819.34 L585.38,819.10 L586.57,818.85 L587.76,818.60 L588.96,818.35 L590.15,818.10 L591.35,817.87 L592.54,817.64 L593.74,817.43 L594.93,817.22 L596.13,817.02 L597.32,816.82 L598.51,816.63 L599.69,816.43 L600.88,816.23 L602.05,816.02 L603.23,815.80 L604.40,815.58 L605.56,815.34 L606.72,815.09 L607.87,814.82 L609.01,814.54 L610.14,814.23 L611.27,813.91 L612.38,813.55 L613.49,813.18 L614.59,812.77 L615.67,812.33 L616.75,811.86 L617.81,811.35 L618.86,810.81 L619.90,810.23 L620.92,809.61 L621.93,808.95 L622.93,808.26 L623.92,807.54 L624.90,806.80 L625.87,806.04 L626.83,805.26 L627.78,804.47 L628.72,803.67 L629.65,802.87 L630.58,802.07 L631.51,801.28 L632.43,800.49 L633.35,799.72 L634.26,798.96 L635.17,798.21 L636.08,797.47 L636.99,796.73 L637.89,795.99 L638.80,795.25 L639.71,794.50 L640.62,793.74 L641.53,792.97 L642.43,792.20 L643.34,791.43 L644.24,790.65 L645.15,789.86 L646.05,789.07 L646.95,788.28 L647.84,787.47 L648.74,786.67 L649.62,785.85 L650.51,785.03 L651.39,784.21 L652.27,783.38 L653.14,782.55 L654.01,781.71 L654.87,780.87 L655.73,780.02 L656.58,779.16 L657.42,778.31 L658.26,777.44 L659.09,776.58 L659.92,775.70 L660.74,774.83 L661.55,773.95 L662.36,773.07 L663.17,772.19 L663.97,771.30 L664.78,770.42 L665.58,769.53 L666.38,768.64 L667.18,767.76 L667.98,766.87 L668.79,765.99 L669.59,765.11 L670.40,764.23 L671.21,763.36 L672.03,762.49 L672.85,761.62 L673.68,760.76 L674.51,759.90 L675.34,759.04 L676.17,758.18 L677.00,757.33 L677.83,756.47 L678.66,755.61 L679.49,754.74 L680.32,753.88 L681.14,753.00 L681.96,752.13 L682.77,751.25 L683.57,750.36 L684.37,749.46 L685.16,748.56 L685.94,747.64 L686.70,746.72 L687.46,745.78 L688.21,744.84 L688.95,743.88 L689.68,742.92 L690.40,741.95 L691.11,740.98 L691.80,739.99 L692.49,739.01 L693.17,738.01 L693.84,737.01 L694.50,736.00 L695.15,735.00 L695.79,733.98 L696.42,732.97 L697.04,731.95 L697.65,730.93 L698.25,729.91 L698.84,728.88 L699.43,727.86 L700.02,726.84 L700.60,725.81 L701.20,724.79 L701.80,723.77 L702.41,722.76 L703.04,721.74 L703.68,720.73 L704.33,719.72 L704.99,718.71 L705.66,717.70 L706.33,716.69 L707.00,715.68 L707.68,714.68 L708.35,713.67 L709.02,712.66 L709.68,711.65 L710.34,710.64 L710.99,709.63 L711.64,708.62 L712.29,707.62 L712.95,706.62 L713.61,705.63 L714.30,704.65 L715.00,703.69 L715.72,702.75 L716.47,701.82 L717.25,700.92 L718.07,700.04 L718.92,699.20 L719.82,698.38 L720.74,697.60 L721.71,696.87 L722.70,696.18 L723.73,695.55 L724.78,694.99 L725.86,694.48 L726.97,694.05 L728.10,693.69 L729.25,693.39 L730.41,693.14 L731.59,692.94 L732.79,692.79 L733.99,692.68 L735.19,692.59 L736.40,692.53 L737.61,692.49 L738.82,692.47 L740.02,692.44 L741.22,692.41 L742.41,692.35 L743.59,692.26 L744.77,692.13 L745.93,691.93 L747.07,691.66 L748.20,691.33 L749.32,690.92 L750.42,690.46 L751.50,689.93 L752.56,689.35 L753.59,688.72 L754.61,688.04 L755.59,687.31 L756.56,686.56 L757.52,685.79 L758.49,685.03 L759.47,684.30 L760.47,683.62 L761.51,683.00 L762.59,682.48 L763.69,682.06 L764.81,681.77 L765.94,681.63 L767.06,681.66 L768.16,681.86 L769.24,682.23 L770.30,682.74 L771.34,683.37 L772.34,684.11 L773.30,684.93 L774.23,685.81 L775.12,686.73 L775.96,687.66 L776.76,688.59 L777.52,689.53 L778.26,690.48 L778.96,691.43 L779.65,692.38 L780.31,693.34 L780.98,694.30 L781.63,695.25 L782.29,696.21 L782.96,697.17 L783.64,698.13 L784.33,699.08 L785.04,700.04 L785.76,700.99 L786.50,701.93 L787.25,702.88 L788.01,703.82 L788.79,704.75 L789.57,705.67 L790.36,706.59 L791.16,707.51 L791.97,708.41 L792.79,709.31 L793.61,710.19 L794.44,711.07 L795.27,711.94 L796.10,712.81 L796.94,713.67 L797.78,714.52 L798.63,715.37 L799.47,716.22 L800.32,717.07 L801.16,717.91 L802.00,718.76 L802.85,719.61 L803.69,720.45 L804.52,721.31 L805.36,722.16 L806.18,723.02 L807.01,723.88 L807.83,724.75 L808.64,725.62 L809.45,726.50 L810.25,727.38 L811.05,728.27 L811.84,729.17 L812.63,730.07 L813.41,730.97 L814.18,731.88 L814.95,732.80 L815.71,733.72 L816.47,734.64 L817.22,735.58 L817.96,736.51 L818.69,737.45 L819.42,738.40 L820.14,739.36 L820.86,740.31 L821.57,741.28 L822.27,742.25 L822.96,743.22 L823.64,744.21 L824.32,745.19 L824.99,746.18 L825.65,747.18 L826.31,748.19 L826.95,749.20 L827.59,750.21 L828.22,751.23 L828.84,752.26 L829.45,753.29 L830.06,754.33 L830.66,755.37 L831.26,756.41 L831.85,757.46 L832.43,758.51 L833.01,759.56 L833.59,760.62 L834.17,761.68 L834.74,762.74 L835.31,763.80 L835.88,764.86 L836.45,765.92 L837.02,766.98 L837.59,768.04 L838.15,769.10 L838.72,770.16 L839.30,771.22 L839.87,772.27 L840.45,773.33 L841.03,774.38 L841.61,775.43 L842.20,776.47 L842.79,777.51 L843.39,778.55 L843.99,779.58 L844.60,780.60 L845.22,781.62 L845.85,782.64 L846.48,783.65 L847.12,784.65 L847.77,785.65 L848.43,786.64 L849.10,787.62 L849.78,788.59 L850.47,789.55 L851.18,790.51 L851.89,791.46 L852.62,792.39 L853.36,793.32 L854.10,794.25 L854.86,795.16 L855.64,796.06 L856.42,796.96 L857.22,797.85 L858.02,798.73 L858.84,799.60 L859.67,800.46 L860.51,801.32 L861.37,802.16 L862.23,803.00 L863.11,803.83 L864.00,804.65 L864.90,805.47 L865.81,806.27 L866.74,807.07 L867.67,807.85 L868.62,808.62 L869.58,809.38 L870.56,810.11 L871.54,810.83 L872.54,811.52 L873.55,812.19 L874.57,812.83 L875.60,813.45 L876.65,814.03 L877.71,814.59 L878.78,815.11 L879.86,815.59 L880.96,816.04 L882.07,816.45 L883.18,816.82 L884.31,817.16 L885.45,817.47 L886.60,817.75 L887.76,818.00 L888.92,818.23 L890.09,818.43 L891.27,818.61 L892.45,818.77 L893.64,818.91 L894.84,819.03 L896.03,819.14 L897.23,819.23 L898.44,819.32 L899.64,819.39 L900.85,819.46 L902.05,819.52 L903.26,819.58 L904.46,819.63 L905.66,819.69 L906.86,819.74" stroke="#00FFFF"/>
<path d="M153.15,820.19 L407.19,820.19 L408.39,820.18 L409.59,820.18 L410.79,820.17 L411.99,820.17 L413.19,820.16 L414.40,820.16 L415.60,820.16 L416.80,820.17 L418.00,820.17 L419.19,820.17 L420.39,820.18 L421.59,820.19 L422.79,820.19 L440.74,820.19 L441.93,820.18 L443.13,820.16 L444.32,820.13 L445.51,820.09 L446.70,820.04 L447.89,819.95 L449.08,819.84 L450.27,819.70 L451.46,819.51 L452.65,819.28 L453.84,819.01 L455.03,818.71 L456.22,818.41 L457.40,818.11 L458.59,817.84 L459.77,817.60 L460.96,817.40 L462.14,817.25 L463.33,817.14 L464.51,817.10 L465.69,817.12 L466.87,817.20 L468.05,817.33 L469.23,817.51 L470.41,817.71 L471.59,817.94 L472.76,818.18 L473.94,818.43 L475.12,818.68 L476.29,818.93 L477.47,819.17 L478.65,819.40 L479.82,819.61 L481.00,819.81 L482.18,819.98 L483.36,820.13 L484.54,820.19 L514.68,820.19 L515.86,820.10 L517.02,819.93 L518.17,819.73 L519.31,819.47 L520.43,819.17 L521.53,818.80 L522.61,818.38 L523.68,817.90 L524.72,817.36 L525.75,816.76 L526.75,816.11 L527.73,815.42 L528.68,814.68 L529.61,813.90 L530.51,813.08 L531.39,812.23 L532.24,811.34 L533.06,810.43 L533.84,809.50 L534.60,808.54 L535.33,807.57 L536.02,806.58 L536.69,805.58 L537.35,804.58 L538.00,803.57 L538.64,802.57 L539.29,801.56 L539.94,800.56 L540.62,799.57 L541.31,798.60 L542.03,797.64 L542.79,796.70 L543.58,795.79 L544.40,794.91 L545.26,794.07 L546.16,793.27 L547.09,792.52 L548.05,791.83 L549.06,791.19 L550.10,790.62 L551.18,790.14 L552.31,789.77 L553.47,789.54 L554.66,789.40 L555.87,789.32 L557.09,789.26 L558.31,789.16 L559.51,788.99 L560.70,788.71 L561.85,788.30 L562.95,787.78 L564.00,787.16 L564.98,786.48 L565.90,785.73 L566.75,784.92 L567.54,784.05 L568.28,783.14 L568.96,782.19 L569.61,781.19 L570.22,780.16 L570.79,779.11 L571.33,778.02 L571.85,776.92 L572.36,775.80 L572.85,774.68 L573.33,773.54 L573.81,772.41 L574.29,771.28 L574.78,770.16 L575.28,769.06 L575.80,767.97 L576.32,766.89 L576.86,765.83 L577.41,764.77 L577.97,763.72 L578.53,762.68 L579.10,761.65 L579.67,760.62 L580.25,759.59 L580.82,758.55 L581.40,757.52 L581.97,756.48 L582.54,755.44 L583.10,754.39 L583.66,753.33 L584.21,752.26 L584.76,751.19 L585.30,750.11 L585.83,749.03 L586.34,747.94 L586.85,746.84 L587.35,745.74 L587.84,744.63 L588.31,743.52 L588.77,742.40 L589.21,741.27 L589.64,740.15 L590.05,739.01 L590.45,737.88 L590.83,736.74 L591.19,735.59 L591.54,734.44 L591.88,733.29 L592.20,732.14 L592.51,730.98 L592.81,729.82 L593.09,728.65 L593.37,727.49 L593.64,726.32 L593.90,725.15 L594.15,723.97 L594.39,722.80 L594.63,721.62 L594.86,720.45 L595.09,719.27 L595.31,718.09 L595.53,716.91 L595.74,715.73 L595.95,714.55 L596.17,713.37 L596.38,712.19 L596.58,711.01 L596.79,709.83 L597.00,708.65 L597.20,707.47 L597.40,706.29 L597.60,705.11 L597.80,703.93 L598.00,702.75 L598.20,701.57 L598.40,700.39 L598.59,699.20 L598.79,698.02 L598.98,696.84 L599.18,695.66 L599.37,694.48 L599.56,693.30 L599.75,692.12 L599.94,690.93 L600.13,689.75 L600.32,688.57 L600.50,687.39 L600.69,686.21 L600.88,685.02 L601.06,683.84 L601.25,682.66 L601.44,681.48 L601.62,680.30 L601.80,679.11 L601.99,677.93 L602.17,676.75 L602.36,675.56 L602.54,674.38 L602.72,673.20 L602.91,672.02 L603.09,670.83 L603.28,669.65 L603.46,668.47 L603.64,667.28 L603.83,666.10 L604.01,664.92 L604.20,663.73 L604.38,662.55 L604.57,661.36 L604.75,660.18 L604.94,659.00 L605.13,657.81 L605.31,656.63 L605.50,655.44 L605.69,654.26 L605.88,653.08 L606.07,651.89 L606.26,650.71 L606.44,649.52 L606.63,648.34 L606.82,647.15 L607.01,645.97 L607.20,644.78 L607.39,643.60 L607.58,642.41 L607.77,641.23 L607.96,640.04 L608.15,638.86 L608.33,637.67 L608.52,636.49 L608.71,635.30 L608.90,634.11 L609.09,632.93 L609.27,631.74 L609.46,630.56 L609.65,629.37 L609.83,628.18 L610.02,627.00 L610.20,625.81 L610.39,624.63 L610.57,623.44 L610.76,622.25 L610.94,621.07 L611.12,619.88 L611.30,618.69 L611.48,617.51 L611.66,616.32 L611.84,615.13 L612.02,613.95 L612.20,612.76 L612.38,611.57 L612.56,610.39 L612.75,609.20 L612.93,608.02 L613.11,606.83 L613.29,605.64 L613.48,604.46 L613.66,603.28 L613.85,602.09 L614.04,600.91 L614.23,599.73 L614.42,598.55 L614.62,597.36 L614.81,596.18 L615.01,595.00 L615.21,593.82 L615.42,592.65 L615.63,591.47 L615.84,590.29 L616.05,589.12 L616.27,587.94 L616.49,586.77 L616.71,585.60 L616.94,584.42 L617.17,583.25 L617.40,582.08 L617.64,580.92 L617.88,579.75 L618.13,578.58 L618.39,577.42 L618.64,576.26 L618.91,575.10 L619.17,573.94 L619.45,572.78 L619.73,571.62 L620.03,570.47 L620.33,569.31 L620.66,568.16 L620.99,567.01 L621.35,565.86 L621.73,564.72 L622.13,563.57 L622.55,562.43 L622.99,561.29 L623.47,560.16 L623.97,559.02 L624.51,557.89 L625.08,556.76 L625.69,555.65 L626.36,554.59 L627.10,553.60 L627.93,552.73 L628.82,552.17 L629.74,552.18 L630.66,552.80 L631.52,553.74 L632.29,554.75 L632.98,555.78 L633.58,556.83 L634.12,557.89 L634.59,558.97 L635.01,560.06 L635.38,561.16 L635.71,562.27 L636.00,563.40 L636.28,564.54 L636.54,565.68 L636.79,566.83 L637.04,567.99 L637.28,569.16 L637.52,570.33 L637.76,571.51 L638.00,572.69 L638.24,573.88 L638.47,575.06 L638.71,576.25 L638.95,577.44 L639.18,578.63 L639.42,579.81 L639.66,581.00 L639.90,582.18 L640.14,583.37 L640.38,584.55 L640.62,585.73 L640.86,586.92 L641.10,588.10 L641.34,589.28 L641.59,590.46 L641.83,591.64 L642.07,592.82 L642.31,594.00 L642.56,595.18 L642.80,596.36 L643.05,597.54 L643.29,598.71 L643.53,599.89 L643.78,601.07 L644.02,602.25 L644.27,603.42 L644.51,604.60 L644.76,605.77 L645.00,606.95 L645.24,608.12 L645.49,609.30 L645.73,610.47 L645.97,611.65 L646.22,612.82 L646.46,613.99 L646.70,615.17 L646.94,616.34 L647.18,617.51 L647.42,618.69 L647.66,619.86 L647.90,621.03 L648.14,622.20 L648.38,623.38 L648.62,624.55 L648.85,625.72 L649.09,626.89 L649.33,628.07 L649.56,629.24 L649.79,630.41 L650.03,631.58 L650.26,632.76 L650.49,633.93 L650.72,635.10 L650.95,636.27 L651.17,637.45 L651.40,638.62 L651.63,639.79 L651.85,640.96 L652.08,642.14 L652.30,643.31 L652.53,644.48 L652.76,645.65 L652.98,646.83 L653.21,648.00 L653.44,649.17 L653.67,650.34 L653.90,651.51 L654.14,652.68 L654.37,653.85 L654.61,655.03 L654.85,656.20 L655.09,657.37 L655.34,658.53 L655.58,659.70 L655.83,660.87 L656.09,662.04 L656.35,663.21 L656.61,664.37 L656.87,665.54 L657.14,666.70 L657.42,667.87 L657.70,669.03 L657.98,670.20 L658.27,671.36 L658.57,672.52 L658.87,673.68 L659.17,674.84 L659.48,676.00 L659.80,677.16 L660.12,678.32 L660.45,679.47 L660.79,680.63 L661.13,681.78 L661.48,682.94 L661.84,684.09 L662.20,685.24 L662.57,686.39 L662.94,687.54 L663.32,688.69 L663.70,689.83 L664.08,690.98 L664.47,692.12 L664.86,693.27 L665.26,694.41 L665.66,695.55 L666.06,696.69 L666.46,697.82 L666.86,698.96 L667.27,700.09 L667.67,701.23 L668.08,702.36 L668.49,703.49 L668.90,704.62 L669.31,705.74 L669.72,706.87 L670.12,708.00 L670.53,709.12 L670.94,710.24 L671.34,711.37 L671.75,712.49 L672.15,713.61 L672.55,714.74 L672.95,715.86 L673.35,716.98 L673.75,718.11 L674.14,719.23 L674.53,720.36 L674.92,721.48 L675.30,722.61 L675.68,723.74 L676.06,724.86 L676.44,725.99 L676.80,727.13 L677.17,728.26 L677.53,729.39 L677.89,730.53 L678.24,731.67 L678.58,732.81 L678.93,733.96 L679.26,735.10 L679.59,736.25 L679.91,737.40 L680.23,738.56 L680.55,739.71 L680.86,740.87 L681.17,742.03 L681.47,743.19 L681.78,744.35 L682.08,745.52 L682.39,746.68 L682.69,747.84 L683.00,749.01 L683.31,750.17 L683.62,751.33 L683.93,752.50 L684.25,753.66 L684.58,754.82 L684.91,755.98 L685.25,757.13 L685.59,758.29 L685.94,759.44 L686.30,760.59 L686.68,761.74 L687.06,762.88 L687.45,764.02 L687.85,765.16 L688.26,766.29 L688.68,767.42 L689.12,768.54 L689.56,769.66 L690.02,770.77 L690.49,771.87 L690.98,772.97 L691.48,774.06 L691.99,775.14 L692.51,776.22 L693.05,777.28 L693.61,778.34 L694.18,779.39 L694.76,780.43 L695.37,781.46 L695.98,782.48 L696.62,783.48 L697.27,784.48 L697.94,785.47 L698.63,786.44 L699.33,787.40 L700.06,788.35 L700.80,789.29 L701.56,790.22 L702.35,791.13 L703.15,792.02 L703.97,792.90 L704.82,793.77 L705.68,794.61 L706.57,795.44 L707.48,796.23 L708.42,796.98 L709.38,797.70 L710.37,798.36 L711.39,798.98 L712.44,799.54 L713.51,800.04 L714.62,800.47 L715.76,800.83 L716.94,801.11 L718.13,801.34 L719.34,801.55 L720.53,801.77 L721.71,802.03 L722.86,802.36 L723.98,802.76 L725.06,803.23 L726.12,803.76 L727.15,804.35 L728.16,804.98 L729.15,805.65 L730.12,806.36 L731.08,807.09 L732.03,807.85 L732.97,808.62 L733.90,809.40 L734.83,810.17 L735.77,810.95 L736.71,811.70 L737.66,812.45 L738.64,813.16 L739.64,813.84 L740.67,814.49 L741.73,815.08 L742.81,815.62 L743.93,816.08 L745.06,816.47 L746.21,816.76 L747.37,816.95 L748.55,817.07 L749.74,817.12 L750.93,817.14 L752.12,817.14 L753.31,817.13 L754.50,817.13 L755.70,817.13 L756.89,817.15 L758.08,817.17 L759.27,817.21 L760.46,817.27 L761.65,817.34 L762.84,817.44 L764.03,817.57 L765.22,817.73 L766.41,817.92 L767.60,818.15 L768.79,818.40 L769.98,818.68 L771.16,818.96 L772.35,819.22 L773.54,819.47 L774.73,819.68 L775.92,819.84 L777.11,819.96 L778.30,820.05 L779.49,820.11 L780.68,820.15 L781.87,820.17 L783.06,820.19 L784.25,820.19 L798.58,820.19 L799.78,820.19 L800.98,820.18 L802.18,820.18 L803.38,820.17 L804.59,820.17 L805.79,820.17 L806.99,820.17 L808.20,820.17 L809.40,820.18 L810.61,820.18 L811.82,820.19 L813.03,820.19 L906.85,820.19" stroke="#FF00FF"/>
<path d="M153.15,820.19 L557.99,820.19 L559.20,820.19 L560.40,820.18 L561.61,820.18 L562.81,820.17 L564.01,820.17 L565.21,820.17 L566.41,820.18 L567.61,820.18 L568.80,820.18 L570.00,820.19 L571.20,820.19 L584.38,820.19 L585.58,820.18 L586.79,820.17 L588.00,820.15 L589.21,820.13 L590.42,820.12 L591.63,820.12 L592.83,820.15 L594.03,820.19 L597.55,820.19 L598.69,819.92 L599.78,819.34 L600.75,818.57 L601.55,817.67 L602.19,816.65 L602.70,815.56 L603.12,814.41 L603.47,813.23 L603.79,812.05 L604.12,810.88 L604.45,809.73 L604.79,808.59 L605.14,807.45 L605.49,806.32 L605.84,805.19 L606.19,804.04 L606.54,802.90 L606.89,801.74 L607.24,800.58 L607.59,799.42 L607.93,798.26 L608.28,797.10 L608.62,795.94 L608.97,794.78 L609.31,793.63 L609.64,792.49 L609.98,791.36 L610.31,790.24 L610.67,789.13 L611.10,788.03 L611.65,786.95 L612.36,785.89 L613.25,784.93 L614.29,784.35 L615.42,784.34 L616.61,784.67 L617.80,784.96 L618.92,784.80 L619.87,784.06 L620.60,783.06 L621.08,781.97 L621.38,780.83 L621.56,779.64 L621.68,778.44 L621.79,777.23 L621.89,776.02 L621.99,774.82 L622.08,773.61 L622.18,772.41 L622.27,771.21 L622.36,770.01 L622.44,768.81 L622.53,767.61 L622.61,766.41 L622.69,765.21 L622.76,764.01 L622.84,762.81 L622.92,761.61 L622.99,760.41 L623.06,759.21 L623.13,758.02 L623.21,756.82 L623.28,755.62 L623.35,754.42 L623.41,753.22 L623.48,752.03 L623.55,750.83 L623.62,749.63 L623.68,748.43 L623.75,747.23 L623.81,746.04 L623.88,744.84 L623.94,743.64 L624.00,742.44 L624.06,741.24 L624.13,740.05 L624.19,738.85 L624.25,737.65 L624.30,736.45 L624.36,735.25 L624.42,734.06 L624.48,732.86 L624.54,731.66 L624.59,730.46 L624.65,729.26 L624.70,728.06 L624.76,726.87 L624.81,725.67 L624.86,724.47 L624.92,723.27 L624.97,722.07 L625.02,720.88 L625.07,719.68 L625.12,718.48 L625.17,717.28 L625.22,716.08 L625.27,714.88 L625.32,713.69 L625.37,712.49 L625.41,711.29 L625.46,710.09 L625.51,708.89 L625.55,707.69 L625.60,706.50 L625.64,705.30 L625.69,704.10 L625.73,702.90 L625.78,701.70 L625.82,700.51 L625.86,699.31 L625.90,698.11 L625.95,696.91 L625.99,695.71 L626.03,694.51 L626.07,693.32 L626.11,692.12 L626.15,690.92 L626.19,689.72 L626.23,688.52 L626.27,687.32 L626.31,686.12 L626.34,684.93 L626.38,683.73 L626.42,682.53 L626.46,681.33 L626.49,680.13 L626.53,678.93 L626.57,677.74 L626.60,676.54 L626.64,675.34 L626.67,674.14 L626.71,672.94 L626.74,671.74 L626.78,670.55 L626.81,669.35 L626.85,668.15 L626.88,666.95 L626.91,665.75 L626.95,664.55 L626.98,663.35 L627.01,662.16 L627.04,660.96 L627.08,659.76 L627.11,658.56 L627.14,657.36 L627.17,656.16 L627.20,654.96 L627.23,653.77 L627.27,652.57 L627.30,651.37 L627.33,650.17 L627.36,648.97 L627.39,647.77 L627.42,646.57 L627.45,645.38 L627.48,644.18 L627.51,642.98 L627.54,641.78 L627.57,640.58 L627.60,639.38 L627.63,638.18 L627.66,636.99 L627.69,635.79 L627.72,634.59 L627.75,633.39 L627.78,632.19 L627.81,630.99 L627.84,629.79 L627.86,628.59 L627.89,627.40 L627.92,626.20 L627.95,625.00 L627.98,623.80 L628.01,622.60 L628.04,621.40 L628.07,620.20 L628.10,619.00 L628.13,617.81 L628.16,616.61 L628.19,615.41 L628.21,614.21 L628.24,613.01 L628.27,611.81 L628.30,610.61 L628.33,609.41 L628.36,608.22 L628.39,607.02 L628.42,605.82 L628.45,604.62 L628.47,603.42 L628.50,602.22 L628.53,601.02 L628.56,599.82 L628.59,598.62 L628.62,597.43 L628.65,596.23 L628.68,595.03 L628.70,593.83 L628.73,592.63 L628.76,591.43 L628.79,590.23 L628.82,589.03 L628.85,587.83 L628.87,586.63 L628.90,585.44 L628.93,584.24 L628.96,583.04 L628.99,581.84 L629.02,580.64 L629.04,579.44 L629.07,578.24 L629.10,577.04 L629.13,575.84 L629.15,574.64 L629.18,573.45 L629.21,572.25 L629.24,571.05 L629.27,569.85 L629.29,568.65 L629.32,567.45 L629.35,566.25 L629.38,565.05 L629.40,563.85 L629.43,562.65 L629.46,561.45 L629.48,560.26 L629.51,559.06 L629.54,557.86 L629.56,556.66 L629.59,555.46 L629.62,554.26 L629.64,553.06 L629.67,551.86 L629.70,550.66 L629.72,549.46 L629.75,548.26 L629.78,547.06 L629.80,545.86 L629.83,544.67 L629.86,543.47 L629.88,542.27 L629.91,541.07 L629.93,539.87 L629.96,538.67 L629.98,537.47 L630.01,536.27 L630.03,535.07 L630.06,533.87 L630.09,532.67 L630.11,531.47 L630.14,530.27 L630.16,529.07 L630.18,527.87 L630.21,526.68 L630.23,525.48 L630.26,524.28 L630.28,523.08 L630.31,521.88 L630.33,520.68 L630.36,519.48 L630.38,518.28 L630.40,517.08 L630.43,515.88 L630.45,514.68 L630.47,513.48 L630.50,512.28 L630.52,511.08 L630.54,509.88 L630.57,508.68 L630.59,507.48 L630.61,506.28 L630.64,505.08 L630.66,503.89 L630.68,502.69 L630.70,501.49 L630.73,500.29 L630.75,499.09 L630.77,497.89 L630.79,496.69 L630.81,495.49 L630.83,494.29 L630.86,493.09 L630.88,491.89 L630.90,490.69 L630.92,489.49 L630.94,488.29 L630.96,487.09 L630.98,485.89 L631.00,484.69 L631.02,483.49 L631.04,482.29 L631.06,481.09 L631.08,479.89 L631.10,478.69 L631.12,477.49 L631.14,476.29 L631.16,475.09 L631.18,473.89 L631.20,472.69 L631.22,471.49 L631.24,470.29 L631.26,469.09 L631.28,467.89 L631.30,466.70 L631.32,465.50 L631.34,464.30 L631.36,463.10 L631.38,461.90 L631.40,460.70 L631.42,459.50 L631.44,458.30 L631.46,457.10 L631.48,455.90 L631.50,454.70 L631.52,453.50 L631.54,452.30 L631.56,451.10 L631.58,449.90 L631.60,448.70 L631.63,447.50 L631.65,446.30 L631.67,445.10 L631.69,443.90 L631.71,442.70 L631.73,441.50 L631.75,440.30 L631.78,439.10 L631.80,437.90 L631.82,436.70 L631.84,435.50 L631.87,434.30 L631.89,433.10 L631.91,431.90 L631.94,430.70 L631.96,429.50 L631.98,428.30 L632.01,427.10 L632.03,425.90 L632.06,424.70 L632.08,423.50 L632.11,422.30 L632.13,421.10 L632.16,419.90 L632.18,418.70 L632.21,417.50 L632.24,416.30 L632.26,415.10 L632.29,413.90 L632.32,412.70 L632.35,411.50 L632.38,410.30 L632.41,409.11 L632.43,407.91 L632.46,406.71 L632.49,405.51 L632.52,404.31 L632.56,403.11 L632.59,401.91 L632.62,400.71 L632.65,399.51 L632.68,398.31 L632.72,397.11 L632.75,395.91 L632.78,394.71 L632.82,393.51 L632.85,392.31 L632.89,391.11 L632.92,389.91 L632.96,388.71 L632.99,387.51 L633.03,386.31 L633.06,385.11 L633.10,383.91 L633.14,382.71 L633.17,381.51 L633.21,380.32 L633.25,379.12 L633.28,377.92 L633.32,376.72 L633.36,375.52 L633.39,374.32 L633.43,373.12 L633.47,371.92 L633.50,370.72 L633.54,369.52 L633.58,368.32 L633.61,367.12 L633.65,365.92 L633.69,364.72 L633.72,363.52 L633.76,362.33 L633.80,361.13 L633.83,359.93 L633.87,358.73 L633.90,357.53 L633.94,356.33 L633.97,355.13 L634.01,353.93 L634.04,352.73 L634.08,351.53 L634.11,350.33 L634.15,349.14 L634.18,347.94 L634.21,346.74 L634.25,345.54 L634.28,344.34 L634.31,343.14 L634.34,341.94 L634.38,340.74 L634.41,339.54 L634.44,338.35 L634.47,337.15 L634.50,335.95 L634.53,334.75 L634.56,333.55 L634.59,332.35 L634.62,331.15 L634.65,329.95 L634.68,328.76 L634.71,327.56 L634.74,326.36 L634.77,325.16 L634.80,323.96 L634.82,322.76 L634.85,321.56 L634.88,320.37 L634.91,319.17 L634.93,317.97 L634.96,316.77 L634.98,315.57 L635.01,314.37 L635.04,313.18 L635.06,311.98 L635.09,310.78 L635.11,309.58 L635.13,308.38 L635.16,307.18 L635.18,305.99 L635.21,304.79 L635.23,303.59 L635.25,302.39 L635.28,301.19 L635.30,300.00 L635.32,298.80 L635.35,297.60 L635.37,296.40 L635.39,295.21 L635.41,294.01 L635.43,292.81 L635.46,291.61 L635.48,290.41 L635.50,289.22 L635.52,288.02 L635.55,286.82 L635.57,285.62 L635.59,284.43 L635.61,283.23 L635.63,282.03 L635.66,280.83 L635.68,279.64 L635.70,278.44 L635.72,277.24 L635.74,276.04 L635.77,274.85 L635.79,273.65 L635.81,272.45 L635.83,271.25 L635.86,270.06 L635.88,268.86 L635.90,267.66 L635.93,266.47 L635.95,265.27 L635.97,264.07 L636.00,262.88 L636.02,261.68 L636.05,260.48 L636.07,259.29 L636.10,258.09 L636.12,256.89 L636.15,255.70 L636.17,254.50 L636.20,253.30 L636.23,252.11 L636.25,250.91 L636.28,249.71 L636.31,248.52 L636.34,247.32 L636.36,246.12 L636.39,244.93 L636.42,243.73 L636.45,242.53 L636.48,241.34 L636.51,240.14 L636.54,238.95 L636.57,237.75 L636.61,236.55 L636.64,235.36 L636.67,234.16 L636.71,232.97 L636.74,231.77 L636.77,230.57 L636.81,229.38 L636.84,228.18 L636.88,226.98 L636.92,225.79 L636.95,224.59 L636.99,223.39 L637.03,222.19 L637.07,220.99 L637.11,219.79 L637.14,218.58 L637.19,217.38 L637.23,216.18 L637.27,214.97 L637.31,213.76 L637.35,212.55 L637.39,211.34 L637.44,210.13 L637.48,208.92 L637.52,207.70 L637.57,206.49 L637.61,205.27 L637.66,204.05 L637.71,202.83 L637.75,201.60 L637.80,200.37 L637.85,199.14 L637.90,197.91 L637.95,196.68 L638.00,195.45 L638.05,194.22 L638.10,192.98 L638.15,191.75 L638.20,190.53 L638.25,189.30 L638.31,188.08 L638.36,186.87 L638.41,185.66 L638.47,184.45 L638.52,183.26 L638.58,182.07 L638.63,180.88 L638.69,179.71 L638.75,178.55 L638.81,177.39 L638.87,176.25 L638.92,175.12 L638.98,174.00 L639.04,172.90 L639.10,171.81 L639.17,170.73 L639.23,169.66 L639.30,168.59 L639.38,167.51 L639.47,166.42 L639.56,165.30 L639.67,164.17 L639.80,163.00 L639.94,161.79 L640.11,160.53 L640.29,159.23 L640.50,157.86 L640.73,156.43 L640.99,154.93 L641.28,153.39 L641.60,151.94 L641.92,150.74 L642.26,149.94 L642.61,149.68 L642.96,150.03 L643.30,150.89 L643.62,152.13 L643.93,153.62 L644.22,155.24 L644.48,156.88 L644.71,158.43 L644.90,159.91 L645.07,161.31 L645.21,162.65 L645.33,163.93 L645.43,165.16 L645.52,166.34 L645.58,167.49 L645.64,168.60 L645.68,169.69 L645.72,170.76 L645.75,171.81 L645.78,172.87 L645.81,173.92 L645.84,174.99 L645.88,176.07 L645.91,177.16 L645.96,178.27 L646.01,179.39 L646.06,180.53 L646.11,181.67 L646.17,182.83 L646.23,184.00 L646.29,185.17 L646.36,186.36 L646.43,187.55 L646.49,188.75 L646.56,189.95 L646.63,191.17 L646.71,192.38 L646.78,193.60 L646.85,194.82 L646.92,196.04 L646.99,197.27 L647.06,198.49 L647.13,199.72 L647.20,200.94 L647.26,202.17 L647.33,203.39 L647.39,204.61 L647.45,205.83 L647.51,207.05 L647.57,208.26 L647.63,209.48 L647.69,210.70 L647.74,211.91 L647.80,213.13 L647.85,214.34 L647.91,215.55 L647.96,216.76 L648.01,217.97 L648.06,219.18 L648.11,220.39 L648.16,221.60 L648.20,222.81 L648.25,224.01 L648.30,225.22 L648.34,226.43 L648.39,227.63 L648.43,228.84 L648.48,230.04 L648.52,231.24 L648.56,232.44 L648.61,233.65 L648.65,234.85 L648.69,236.05 L648.73,237.25 L648.77,238.45 L648.81,239.65 L648.86,240.85 L648.90,242.05 L648.94,243.24 L648.98,244.44 L649.02,245.64 L649.06,246.84 L649.10,248.03 L649.14,249.23 L649.18,250.43 L649.22,251.62 L649.26,252.82 L649.30,254.02 L649.34,255.21 L649.39,256.41 L649.43,257.60 L649.47,258.80 L649.51,259.99 L649.56,261.19 L649.60,262.39 L649.65,263.58 L649.69,264.78 L649.74,265.97 L649.78,267.17 L649.83,268.36 L649.88,269.56 L649.92,270.75 L649.97,271.95 L650.02,273.14 L650.07,274.34 L650.12,275.54 L650.17,276.73 L650.22,277.93 L650.27,279.12 L650.32,280.32 L650.38,281.51 L650.43,282.71 L650.48,283.91 L650.54,285.10 L650.59,286.30 L650.65,287.49 L650.70,288.69 L650.76,289.89 L650.81,291.08 L650.87,292.28 L650.92,293.47 L650.98,294.67 L651.04,295.87 L651.10,297.06 L651.15,298.26 L651.21,299.46 L651.27,300.65 L651.33,301.85 L651.39,303.05 L651.45,304.24 L651.51,305.44 L651.57,306.63 L651.63,307.83 L651.69,309.03 L651.75,310.22 L651.81,311.42 L651.87,312.62 L651.93,313.81 L652.00,315.01 L652.06,316.21 L652.12,317.41 L652.18,318.60 L652.24,319.80 L652.31,321.00 L652.37,322.19 L652.43,323.39 L652.49,324.59 L652.56,325.78 L652.62,326.98 L652.68,328.18 L652.75,329.38 L652.81,330.57 L652.87,331.77 L652.94,332.97 L653.00,334.16 L653.06,335.36 L653.13,336.56 L653.19,337.76 L653.25,338.95 L653.32,340.15 L653.38,341.35 L653.44,342.55 L653.51,343.74 L653.57,344.94 L653.63,346.14 L653.69,347.34 L653.76,348.53 L653.82,349.73 L653.88,350.93 L653.95,352.13 L654.01,353.32 L654.07,354.52 L654.13,355.72 L654.19,356.92 L654.26,358.12 L654.32,359.31 L654.38,360.51 L654.44,361.71 L654.50,362.91 L654.56,364.10 L654.62,365.30 L654.68,366.50 L654.74,367.70 L654.80,368.90 L654.86,370.09 L654.92,371.29 L654.98,372.49 L655.04,373.69 L655.10,374.89 L655.16,376.09 L655.21,377.28 L655.27,378.48 L655.33,379.68 L655.38,380.88 L655.44,382.08 L655.50,383.27 L655.55,384.47 L655.61,385.67 L655.66,386.87 L655.72,388.07 L655.77,389.27 L655.82,390.46 L655.88,391.66 L655.93,392.86 L655.98,394.06 L656.03,395.26 L656.08,396.46 L656.13,397.66 L656.18,398.85 L656.23,400.05 L656.28,401.25 L656.33,402.45 L656.38,403.65 L656.43,404.85 L656.47,406.05 L656.52,407.24 L656.57,408.44 L656.61,409.64 L656.66,410.84 L656.70,412.04 L656.75,413.24 L656.79,414.44 L656.83,415.63 L656.88,416.83 L656.92,418.03 L656.96,419.23 L657.00,420.43 L657.05,421.63 L657.09,422.83 L657.13,424.03 L657.17,425.23 L657.21,426.42 L657.25,427.62 L657.29,428.82 L657.33,430.02 L657.37,431.22 L657.41,432.42 L657.45,433.62 L657.49,434.82 L657.53,436.02 L657.56,437.21 L657.60,438.41 L657.64,439.61 L657.68,440.81 L657.72,442.01 L657.76,443.21 L657.79,444.41 L657.83,445.61 L657.87,446.81 L657.91,448.01 L657.94,449.20 L657.98,450.40 L658.02,451.60 L658.06,452.80 L658.10,454.00 L658.13,455.20 L658.17,456.40 L658.21,457.60 L658.25,458.80 L658.28,460.00 L658.32,461.20 L658.36,462.40 L658.40,463.59 L658.44,464.79 L658.47,465.99 L658.51,467.19 L658.55,468.39 L658.59,469.59 L658.63,470.79 L658.67,471.99 L658.71,473.19 L658.75,474.39 L658.79,475.59 L658.83,476.79 L658.87,477.99 L658.91,479.18 L658.95,480.38 L658.99,481.58 L659.03,482.78 L659.07,483.98 L659.11,485.18 L659.15,486.38 L659.19,487.58 L659.24,488.78 L659.28,489.98 L659.32,491.18 L659.36,492.38 L659.40,493.58 L659.45,494.78 L659.49,495.98 L659.53,497.17 L659.57,498.37 L659.62,499.57 L659.66,500.77 L659.70,501.97 L659.75,503.17 L659.79,504.37 L659.83,505.57 L659.88,506.77 L659.92,507.97 L659.97,509.17 L660.01,510.37 L660.05,511.57 L660.10,512.77 L660.14,513.97 L660.19,515.16 L660.23,516.36 L660.27,517.56 L660.32,518.76 L660.36,519.96 L660.41,521.16 L660.45,522.36 L660.49,523.56 L660.54,524.76 L660.58,525.96 L660.63,527.16 L660.67,528.36 L660.71,529.56 L660.76,530.76 L660.80,531.96 L660.85,533.15 L660.89,534.35 L660.93,535.55 L660.98,536.75 L661.02,537.95 L661.07,539.15 L661.11,540.35 L661.15,541.55 L661.20,542.75 L661.24,543.95 L661.28,545.15 L661.33,546.35 L661.37,547.55 L661.41,548.74 L661.46,549.94 L661.50,551.14 L661.54,552.34 L661.58,553.54 L661.63,554.74 L661.67,555.94 L661.71,557.14 L661.75,558.34 L661.79,559.54 L661.84,560.74 L661.88,561.94 L661.92,563.14 L661.96,564.33 L662.00,565.53 L662.04,566.73 L662.08,567.93 L662.13,569.13 L662.17,570.33 L662.21,571.53 L662.25,572.73 L662.29,573.93 L662.33,575.13 L662.37,576.33 L662.41,577.52 L662.45,578.72 L662.50,579.92 L662.54,581.12 L662.58,582.32 L662.62,583.52 L662.66,584.72 L662.70,585.92 L662.74,587.12 L662.78,588.32 L662.82,589.51 L662.86,590.71 L662.90,591.91 L662.95,593.11 L662.99,594.31 L663.03,595.51 L663.07,596.71 L663.11,597.91 L663.15,599.11 L663.19,600.30 L663.23,601.50 L663.27,602.70 L663.32,603.90 L663.36,605.10 L663.40,606.30 L663.44,607.50 L663.48,608.70 L663.52,609.89 L663.56,611.09 L663.61,612.29 L663.65,613.49 L663.69,614.69 L663.73,615.89 L663.78,617.09 L663.82,618.28 L663.86,619.48 L663.90,620.68 L663.95,621.88 L663.99,623.08 L664.03,624.28 L664.07,625.48 L664.12,626.67 L664.16,627.87 L664.20,629.07 L664.25,630.27 L664.29,631.47 L664.34,632.67 L664.38,633.86 L664.42,635.06 L664.47,636.26 L664.51,637.46 L664.56,638.66 L664.60,639.86 L664.65,641.05 L664.69,642.25 L664.74,643.45 L664.79,644.65 L664.83,645.85 L664.88,647.04 L664.92,648.24 L664.97,649.44 L665.02,650.64 L665.07,651.84 L665.11,653.03 L665.16,654.23 L665.21,655.43 L665.26,656.63 L665.30,657.83 L665.35,659.02 L665.40,660.22 L665.45,661.42 L665.50,662.62 L665.55,663.82 L665.60,665.01 L665.65,666.21 L665.70,667.41 L665.75,668.61 L665.80,669.80 L665.85,671.00 L665.91,672.20 L665.96,673.40 L666.01,674.59 L666.06,675.79 L666.12,676.99 L666.17,678.19 L666.22,679.38 L666.28,680.58 L666.33,681.78 L666.38,682.98 L666.44,684.17 L666.49,685.37 L666.55,686.57 L666.61,687.77 L666.66,688.96 L666.72,690.16 L666.78,691.36 L666.84,692.55 L666.90,693.75 L666.95,694.95 L667.01,696.15 L667.08,697.34 L667.14,698.54 L667.20,699.74 L667.26,700.93 L667.33,702.13 L667.39,703.33 L667.46,704.52 L667.52,705.72 L667.59,706.92 L667.66,708.11 L667.73,709.31 L667.80,710.51 L667.87,711.70 L667.94,712.90 L668.02,714.10 L668.09,715.29 L668.17,716.49 L668.24,717.69 L668.32,718.88 L668.40,720.08 L668.48,721.28 L668.57,722.47 L668.65,723.67 L668.74,724.86 L668.82,726.06 L668.91,727.26 L669.01,728.45 L669.10,729.65 L669.20,730.84 L669.30,732.04 L669.41,733.23 L669.52,734.43 L669.63,735.62 L669.75,736.82 L669.87,738.01 L670.00,739.20 L670.13,740.40 L670.26,741.59 L670.40,742.78 L670.55,743.97 L670.70,745.16 L670.86,746.35 L671.02,747.55 L671.19,748.74 L671.36,749.92 L671.55,751.11 L671.73,752.30 L671.93,753.49 L672.13,754.68 L672.33,755.86 L672.55,757.05 L672.76,758.23 L672.98,759.42 L673.20,760.60 L673.43,761.78 L673.65,762.97 L673.88,764.15 L674.11,765.33 L674.35,766.51 L674.58,767.69 L674.82,768.86 L675.05,770.04 L675.29,771.22 L675.53,772.39 L675.76,773.57 L676.00,774.74 L676.24,775.91 L676.47,777.08 L676.71,778.25 L676.94,779.42 L677.17,780.59 L677.40,781.76 L677.63,782.92 L677.86,784.09 L678.09,785.25 L678.32,786.42 L678.55,787.58 L678.80,788.75 L679.05,789.91 L679.32,791.08 L679.60,792.24 L679.89,793.41 L680.20,794.59 L680.54,795.76 L680.89,796.94 L681.27,798.11 L681.68,799.30 L682.11,800.48 L682.60,801.61 L683.18,802.65 L683.86,803.52 L684.68,803.93 L685.63,803.51 L686.52,802.55 L687.18,801.45 L687.63,800.28 L687.93,799.09 L688.15,797.88 L688.35,796.70 L688.59,795.55 L688.88,794.44 L689.23,793.34 L689.65,792.23 L690.13,791.11 L690.70,789.95 L691.37,788.80 L692.16,787.79 L693.11,787.05 L694.19,786.70 L695.22,786.88 L696.14,787.51 L696.96,788.40 L697.68,789.40 L698.31,790.47 L698.87,791.58 L699.36,792.71 L699.81,793.84 L700.21,794.96 L700.59,796.09 L700.94,797.22 L701.29,798.35 L701.64,799.49 L701.99,800.63 L702.35,801.78 L702.72,802.92 L703.09,804.07 L703.47,805.22 L703.85,806.36 L704.23,807.50 L704.62,808.64 L705.02,809.77 L705.42,810.89 L705.83,812.00 L706.25,813.11 L706.69,814.21 L707.18,815.30 L707.73,816.38 L708.38,817.47 L709.14,818.49 L710.02,819.31 L711.06,819.81 L712.20,820.04 L713.40,820.13 L714.60,820.19 L723.01,820.19 L724.21,820.18 L725.41,820.17 L726.61,820.17 L727.81,820.17 L729.01,820.16 L730.21,820.17 L731.41,820.17 L732.61,820.17 L733.81,820.18 L735.01,820.19 L736.20,820.19 L745.80,820.19 L747.00,820.18 L906.85,820.19" stroke="#FFFF00"/>
<path d="M153.15,820.19 L492.40,820.19 L493.59,820.19 L494.78,820.19 L495.97,820.19 L497.17,820.19 L498.36,820.18 L499.56,820.18 L500.75,820.18 L501.95,820.18 L503.14,820.18 L504.34,820.18 L505.54,820.19 L506.74,820.19 L507.93,820.19 L509.13,820.19 L524.75,820.19 L525.95,820.17 L527.15,820.14 L528.35,820.10 L529.56,820.05 L530.76,819.99 L531.96,819.92 L533.16,819.84 L534.36,819.75 L535.56,819.65 L536.75,819.53 L537.95,819.41 L539.14,819.27 L540.34,819.12 L541.53,818.96 L542.71,818.79 L543.90,818.61 L545.08,818.41 L546.27,818.20 L547.44,817.98 L548.62,817.74 L549.79,817.50 L550.96,817.23 L552.12,816.96 L553.28,816.67 L554.44,816.37 L555.59,816.06 L556.74,815.73 L557.89,815.39 L559.02,815.03 L560.16,814.66 L561.29,814.28 L562.41,813.88 L563.53,813.47 L564.64,813.04 L565.74,812.60 L566.84,812.14 L567.94,811.67 L569.02,811.18 L570.10,810.68 L571.18,810.16 L572.24,809.63 L573.30,809.08 L574.35,808.52 L575.39,807.94 L576.43,807.35 L577.46,806.74 L578.48,806.11 L579.49,805.47 L580.49,804.82 L581.48,804.15 L582.46,803.46 L583.44,802.76 L584.40,802.04 L585.36,801.31 L586.30,800.57 L587.24,799.81 L588.16,799.03 L589.08,798.25 L589.98,797.45 L590.88,796.64 L591.76,795.81 L592.63,794.98 L593.49,794.13 L594.34,793.27 L595.17,792.40 L596.00,791.52 L596.81,790.63 L597.61,789.73 L598.40,788.81 L599.17,787.89 L599.93,786.96 L600.68,786.02 L601.42,785.07 L602.14,784.11 L602.85,783.15 L603.54,782.17 L604.23,781.19 L604.90,780.20 L605.56,779.21 L606.21,778.20 L606.85,777.19 L607.48,776.18 L608.10,775.16 L608.71,774.13 L609.31,773.10 L609.91,772.06 L610.49,771.02 L611.07,769.97 L611.64,768.92 L612.21,767.86 L612.76,766.80 L613.32,765.74 L613.86,764.67 L614.40,763.60 L614.94,762.53 L615.47,761.46 L616.00,760.38 L616.52,759.31 L617.04,758.23 L617.56,757.15 L618.08,756.06 L618.59,754.98 L619.10,753.90 L619.61,752.82 L620.12,751.74 L620.63,750.65 L621.14,749.57 L621.65,748.49 L622.16,747.41 L622.67,746.33 L623.18,745.25 L623.68,744.17 L624.19,743.08 L624.70,742.00 L625.20,740.92 L625.71,739.84 L626.21,738.76 L626.72,737.68 L627.22,736.60 L627.73,735.52 L628.23,734.44 L628.74,733.35 L629.24,732.27 L629.74,731.19 L630.25,730.11 L630.75,729.03 L631.25,727.94 L631.75,726.86 L632.26,725.78 L632.76,724.69 L633.26,723.61 L633.76,722.52 L634.27,721.44 L634.77,720.35 L635.27,719.26 L635.77,718.17 L636.28,717.09 L636.78,716.00 L637.28,714.91 L637.78,713.82 L638.28,712.73 L638.79,711.63 L639.29,710.54 L639.79,709.45 L640.30,708.35 L640.80,707.26 L641.30,706.16 L641.81,705.06 L642.31,703.97 L642.81,702.87 L643.32,701.77 L643.82,700.66 L644.33,699.56 L644.83,698.46 L645.34,697.36 L645.86,696.26 L646.37,695.16 L646.90,694.07 L647.44,692.98 L647.98,691.91 L648.54,690.84 L649.12,689.78 L649.71,688.74 L650.31,687.71 L650.94,686.70 L651.59,685.70 L652.26,684.72 L652.96,683.76 L653.68,682.82 L654.43,681.91 L655.21,681.02 L656.02,680.15 L656.86,679.32 L657.74,678.51 L658.65,677.73 L659.61,676.98 L660.60,676.27 L661.63,675.61 L662.68,675.01 L663.77,674.48 L664.88,674.05 L666.01,673.72 L667.15,673.49 L668.31,673.37 L669.47,673.33 L670.63,673.39 L671.79,673.54 L672.95,673.76 L674.09,674.07 L675.23,674.45 L676.34,674.91 L677.43,675.42 L678.50,676.00 L679.54,676.64 L680.55,677.32 L681.55,678.05 L682.52,678.80 L683.48,679.59 L684.42,680.39 L685.35,681.20 L686.26,682.02 L687.16,682.84 L688.04,683.67 L688.92,684.51 L689.79,685.35 L690.65,686.19 L691.50,687.03 L692.34,687.88 L693.18,688.73 L694.01,689.58 L694.84,690.43 L695.67,691.28 L696.49,692.13 L697.31,692.98 L698.13,693.83 L698.96,694.67 L699.78,695.51 L700.61,696.35 L701.44,697.19 L702.27,698.03 L703.10,698.87 L703.93,699.71 L704.75,700.57 L705.56,701.44 L706.36,702.32 L707.16,703.22 L707.95,704.12 L708.74,705.04 L709.51,705.96 L710.29,706.89 L711.05,707.83 L711.81,708.77 L712.57,709.71 L713.33,710.66 L714.08,711.60 L714.83,712.55 L715.57,713.50 L716.32,714.44 L717.06,715.38 L717.80,716.33 L718.54,717.27 L719.28,718.21 L720.02,719.15 L720.77,720.08 L721.51,721.02 L722.26,721.95 L723.00,722.88 L723.75,723.81 L724.50,724.73 L725.25,725.66 L726.00,726.58 L726.75,727.51 L727.50,728.43 L728.25,729.35 L729.01,730.27 L729.76,731.19 L730.52,732.12 L731.27,733.04 L732.03,733.96 L732.78,734.89 L733.54,735.82 L734.30,736.74 L735.05,737.67 L735.81,738.60 L736.57,739.54 L737.32,740.47 L738.08,741.40 L738.84,742.34 L739.61,743.27 L740.37,744.20 L741.14,745.13 L741.92,746.06 L742.69,746.98 L743.47,747.90 L744.26,748.81 L745.05,749.72 L745.85,750.62 L746.65,751.52 L747.47,752.40 L748.28,753.28 L749.11,754.15 L749.94,755.01 L750.79,755.86 L751.64,756.70 L752.50,757.53 L753.38,758.34 L754.26,759.15 L755.15,759.94 L756.06,760.71 L756.98,761.47 L757.91,762.21 L758.85,762.94 L759.81,763.65 L760.78,764.35 L761.76,765.03 L762.75,765.69 L763.76,766.34 L764.77,766.97 L765.79,767.59 L766.83,768.19 L767.87,768.78 L768.93,769.35 L769.99,769.91 L771.06,770.45 L772.13,770.98 L773.22,771.49 L774.31,771.99 L775.41,772.48 L776.52,772.95 L777.63,773.40 L778.75,773.85 L779.87,774.28 L781.00,774.69 L782.13,775.10 L783.26,775.49 L784.40,775.86 L785.54,776.23 L786.69,776.58 L787.83,776.92 L788.98,777.25 L790.13,777.56 L791.28,777.88 L792.43,778.19 L793.58,778.51 L794.72,778.84 L795.86,779.18 L797.00,779.54 L798.13,779.92 L799.26,780.32 L800.37,780.76 L801.48,781.23 L802.58,781.73 L803.66,782.25 L804.74,782.80 L805.81,783.36 L806.86,783.95 L807.90,784.55 L808.93,785.16 L809.95,785.79 L810.96,786.43 L811.96,787.09 L812.95,787.75 L813.94,788.43 L814.92,789.12 L815.89,789.81 L816.86,790.52 L817.82,791.23 L818.78,791.94 L819.73,792.66 L820.69,793.39 L821.64,794.11 L822.59,794.84 L823.53,795.58 L824.48,796.31 L825.43,797.04 L826.38,797.77 L827.33,798.49 L828.29,799.21 L829.25,799.93 L830.21,800.64 L831.18,801.35 L832.15,802.04 L833.13,802.73 L834.12,803.41 L835.11,804.08 L836.11,804.74 L837.12,805.39 L838.14,806.02 L839.16,806.64 L840.19,807.25 L841.23,807.85 L842.28,808.44 L843.33,809.01 L844.39,809.57 L845.46,810.12 L846.53,810.66 L847.61,811.18 L848.69,811.69 L849.79,812.19 L850.88,812.67 L851.99,813.14 L853.10,813.59 L854.21,814.03 L855.34,814.45 L856.46,814.86 L857.59,815.26 L858.73,815.64 L859.87,816.01 L861.02,816.36 L862.17,816.69 L863.32,817.01 L864.48,817.31 L865.64,817.59 L866.81,817.85 L867.98,818.09 L869.15,818.32 L870.33,818.53 L871.51,818.71 L872.69,818.88 L873.88,819.02 L875.07,819.14 L876.26,819.25 L877.45,819.33 L878.64,819.41 L879.84,819.48 L881.03,819.53 L882.23,819.59 L883.43,819.65 L884.63,819.70 L885.83,819.76 L887.03,819.82 L888.23,819.87 L889.43,819.93 L890.64,819.98 L891.84,820.03 L893.04,820.07 L894.24,820.12 L895.44,820.15 L896.64,820.18 L897.83,820.19 L903.80,820.19 L904.98,820.19 L906.85,820.19" stroke="#BEBEBE"/>
<path d="M153.15,820.19 L552.99,820.19 L554.20,820.19 L561.41,820.19 L562.61,820.19 L563.81,820.18 L565.00,820.18 L566.20,820.18 L567.40,820.18 L568.59,820.18 L569.79,820.18 L570.98,820.18 L572.18,820.19 L573.38,820.19 L581.80,820.19 L583.01,820.17 L584.22,820.14 L585.44,820.11 L586.65,820.10 L587.85,820.13 L589.05,820.19 L592.57,820.19 L593.70,819.96 L594.79,819.39 L595.78,818.63 L596.64,817.74 L597.33,816.77 L597.89,815.72 L598.34,814.62 L598.71,813.49 L599.03,812.33 L599.34,811.16 L599.63,809.99 L599.90,808.81 L600.17,807.62 L600.42,806.44 L600.67,805.25 L600.91,804.06 L601.14,802.88 L601.36,801.69 L601.57,800.50 L601.77,799.31 L601.97,798.12 L602.16,796.94 L602.35,795.75 L602.52,794.56 L602.69,793.37 L602.86,792.18 L603.01,790.99 L603.17,789.80 L603.31,788.61 L603.46,787.42 L603.59,786.23 L603.72,785.04 L603.85,783.84 L603.98,782.65 L604.10,781.46 L604.21,780.27 L604.32,779.08 L604.43,777.88 L604.54,776.69 L604.64,775.50 L604.74,774.31 L604.84,773.11 L604.94,771.92 L605.03,770.73 L605.13,769.53 L605.22,768.34 L605.31,767.15 L605.39,765.95 L605.48,764.76 L605.56,763.56 L605.65,762.37 L605.73,761.17 L605.81,759.98 L605.89,758.78 L605.96,757.59 L606.04,756.39 L606.12,755.20 L606.19,754.00 L606.26,752.81 L606.34,751.61 L606.41,750.41 L606.48,749.22 L606.55,748.02 L606.62,746.83 L606.69,745.63 L606.76,744.43 L606.83,743.24 L606.90,742.04 L606.97,740.84 L607.04,739.65 L607.10,738.45 L607.17,737.25 L607.24,736.05 L607.31,734.86 L607.38,733.66 L607.45,732.46 L607.52,731.26 L607.59,730.07 L607.66,728.87 L607.73,727.67 L607.80,726.47 L607.88,725.27 L607.95,724.08 L608.02,722.88 L608.10,721.68 L608.18,720.48 L608.25,719.28 L608.33,718.09 L608.41,716.89 L608.49,715.69 L608.57,714.49 L608.65,713.29 L608.73,712.09 L608.81,710.89 L608.90,709.70 L608.98,708.50 L609.06,707.30 L609.15,706.10 L609.23,704.90 L609.31,703.70 L609.40,702.50 L609.48,701.31 L609.56,700.11 L609.65,698.91 L609.73,697.71 L609.82,696.51 L609.90,695.31 L609.98,694.11 L610.07,692.92 L610.15,691.72 L610.23,690.52 L610.31,689.32 L610.39,688.12 L610.47,686.92 L610.55,685.72 L610.63,684.53 L610.71,683.33 L610.79,682.13 L610.86,680.93 L610.94,679.73 L611.01,678.53 L611.08,677.34 L611.16,676.14 L611.23,674.94 L611.30,673.74 L611.37,672.54 L611.43,671.35 L611.50,670.15 L611.56,668.95 L611.63,667.75 L611.69,666.56 L611.75,665.36 L611.81,664.16 L611.87,662.96 L611.93,661.77 L611.98,660.57 L612.04,659.37 L612.10,658.18 L612.15,656.98 L612.21,655.78 L612.27,654.59 L612.32,653.39 L612.38,652.19 L612.44,651.00 L612.50,649.80 L612.55,648.61 L612.61,647.41 L612.67,646.21 L612.74,645.02 L612.80,643.82 L612.86,642.63 L612.93,641.43 L613.00,640.24 L613.06,639.04 L613.13,637.85 L613.21,636.65 L613.28,635.46 L613.36,634.27 L613.44,633.07 L613.53,631.88 L613.61,630.68 L613.70,629.49 L613.80,628.30 L613.90,627.11 L614.00,625.91 L614.11,624.72 L614.22,623.53 L614.34,622.33 L614.46,621.14 L614.59,619.95 L614.72,618.76 L614.86,617.57 L615.01,616.38 L615.16,615.19 L615.32,613.99 L615.49,612.80 L615.66,611.61 L615.84,610.42 L616.03,609.23 L616.23,608.04 L616.43,606.85 L616.65,605.66 L616.86,604.48 L617.09,603.29 L617.32,602.10 L617.55,600.91 L617.79,599.72 L618.02,598.53 L618.26,597.35 L618.50,596.16 L618.74,594.97 L618.98,593.78 L619.22,592.59 L619.45,591.41 L619.68,590.22 L619.90,589.03 L620.12,587.84 L620.34,586.66 L620.54,585.47 L620.74,584.28 L620.94,583.10 L621.12,581.91 L621.30,580.72 L621.47,579.53 L621.64,578.35 L621.79,577.16 L621.94,575.97 L622.08,574.78 L622.21,573.60 L622.33,572.41 L622.44,571.22 L622.55,570.03 L622.66,568.85 L622.75,567.66 L622.84,566.47 L622.93,565.28 L623.01,564.09 L623.08,562.90 L623.15,561.72 L623.22,560.53 L623.29,559.34 L623.35,558.15 L623.41,556.96 L623.47,555.77 L623.52,554.58 L623.58,553.39 L623.63,552.20 L623.69,551.00 L623.74,549.81 L623.79,548.62 L623.85,547.43 L623.90,546.24 L623.95,545.04 L624.00,543.85 L624.06,542.66 L624.11,541.46 L624.16,540.27 L624.21,539.08 L624.26,537.88 L624.31,536.69 L624.36,535.49 L624.41,534.30 L624.46,533.10 L624.51,531.91 L624.56,530.71 L624.61,529.52 L624.66,528.32 L624.70,527.12 L624.75,525.93 L624.80,524.73 L624.85,523.53 L624.89,522.34 L624.94,521.14 L624.99,519.94 L625.03,518.74 L625.08,517.55 L625.13,516.35 L625.17,515.15 L625.22,513.95 L625.26,512.75 L625.31,511.55 L625.35,510.35 L625.40,509.15 L625.44,507.95 L625.49,506.76 L625.53,505.56 L625.57,504.36 L625.62,503.16 L625.66,501.95 L625.70,500.75 L625.75,499.55 L625.79,498.35 L625.83,497.15 L625.87,495.95 L625.92,494.75 L625.96,493.55 L626.00,492.35 L626.04,491.15 L626.08,489.94 L626.12,488.74 L626.16,487.54 L626.21,486.34 L626.25,485.14 L626.29,483.93 L626.33,482.73 L626.37,481.53 L626.41,480.33 L626.45,479.12 L626.49,477.92 L626.53,476.72 L626.56,475.52 L626.60,474.31 L626.64,473.11 L626.68,471.91 L626.72,470.70 L626.76,469.50 L626.80,468.30 L626.84,467.09 L626.87,465.89 L626.91,464.69 L626.95,463.48 L626.99,462.28 L627.02,461.08 L627.06,459.87 L627.10,458.67 L627.14,457.47 L627.17,456.26 L627.21,455.06 L627.25,453.86 L627.28,452.65 L627.32,451.45 L627.36,450.25 L627.39,449.04 L627.43,447.84 L627.47,446.63 L627.50,445.43 L627.54,444.23 L627.57,443.02 L627.61,441.82 L627.65,440.62 L627.68,439.41 L627.72,438.21 L627.75,437.01 L627.79,435.80 L627.82,434.60 L627.86,433.40 L627.89,432.19 L627.93,430.99 L627.96,429.79 L628.00,428.58 L628.03,427.38 L628.07,426.18 L628.10,424.97 L628.14,423.77 L628.17,422.57 L628.21,421.37 L628.24,420.16 L628.28,418.96 L628.31,417.76 L628.35,416.56 L628.38,415.35 L628.41,414.15 L628.45,412.95 L628.48,411.75 L628.52,410.54 L628.55,409.34 L628.59,408.14 L628.62,406.94 L628.65,405.74 L628.69,404.54 L628.72,403.34 L628.76,402.14 L628.79,400.93 L628.82,399.73 L628.86,398.53 L628.89,397.33 L628.93,396.13 L628.96,394.93 L628.99,393.73 L629.03,392.53 L629.06,391.33 L629.10,390.13 L629.13,388.93 L629.17,387.73 L629.20,386.54 L629.23,385.34 L629.27,384.14 L629.30,382.94 L629.34,381.74 L629.37,380.55 L629.40,379.35 L629.44,378.15 L629.47,376.95 L629.51,375.76 L629.54,374.56 L629.58,373.36 L629.61,372.17 L629.65,370.97 L629.68,369.78 L629.71,368.58 L629.75,367.39 L629.78,366.19 L629.82,365.00 L629.85,363.81 L629.89,362.61 L629.92,361.42 L629.96,360.23 L629.99,359.04 L630.03,357.84 L630.06,356.65 L630.10,355.46 L630.14,354.27 L630.17,353.08 L630.21,351.89 L630.24,350.70 L630.28,349.51 L630.31,348.32 L630.35,347.13 L630.39,345.95 L630.42,344.76 L630.46,343.57 L630.49,342.38 L630.53,341.20 L630.57,340.01 L630.60,338.83 L630.64,337.64 L630.68,336.45 L630.71,335.27 L630.75,334.08 L630.79,332.89 L630.83,331.70 L630.86,330.51 L630.90,329.32 L630.94,328.13 L630.98,326.94 L631.02,325.75 L631.05,324.55 L631.09,323.36 L631.13,322.16 L631.17,320.96 L631.21,319.76 L631.25,318.56 L631.29,317.35 L631.33,316.15 L631.36,314.94 L631.40,313.73 L631.44,312.51 L631.48,311.30 L631.52,310.08 L631.56,308.86 L631.60,307.63 L631.64,306.40 L631.69,305.17 L631.73,303.94 L631.77,302.70 L631.81,301.46 L631.85,300.22 L631.89,298.97 L631.93,297.72 L631.97,296.47 L632.02,295.22 L632.06,293.97 L632.10,292.72 L632.14,291.48 L632.18,290.23 L632.22,288.99 L632.26,287.75 L632.30,286.52 L632.34,285.29 L632.37,284.07 L632.41,282.85 L632.45,281.64 L632.48,280.44 L632.52,279.25 L632.55,278.07 L632.58,276.89 L632.62,275.73 L632.65,274.58 L632.68,273.44 L632.70,272.31 L632.73,271.20 L632.76,270.10 L632.78,269.02 L632.80,267.95 L632.82,266.90 L632.84,265.85 L632.86,264.82 L632.89,263.78 L632.91,262.75 L632.94,261.70 L632.97,260.64 L633.00,259.57 L633.04,258.47 L633.09,257.34 L633.14,256.19 L633.21,254.99 L633.28,253.76 L633.36,252.48 L633.45,251.14 L633.55,249.75 L633.67,248.31 L633.80,246.79 L633.94,245.21 L634.10,243.56 L634.27,241.89 L634.46,240.29 L634.64,238.82 L634.83,237.55 L635.03,236.56 L635.21,235.93 L635.40,235.71 L635.57,235.97 L635.73,236.64 L635.89,237.66 L636.04,238.94 L636.18,240.43 L636.31,242.03 L636.44,243.69 L636.56,245.33 L636.67,246.89 L636.78,248.38 L636.88,249.81 L636.98,251.17 L637.07,252.48 L637.16,253.73 L637.24,254.94 L637.32,256.11 L637.39,257.24 L637.47,258.34 L637.53,259.42 L637.60,260.48 L637.66,261.53 L637.73,262.57 L637.79,263.60 L637.85,264.64 L637.91,265.69 L637.96,266.75 L638.02,267.83 L638.08,268.92 L638.13,270.02 L638.19,271.14 L638.24,272.27 L638.30,273.41 L638.35,274.56 L638.41,275.72 L638.46,276.90 L638.51,278.08 L638.57,279.27 L638.62,280.47 L638.67,281.67 L638.72,282.89 L638.77,284.11 L638.83,285.33 L638.88,286.56 L638.93,287.80 L638.98,289.04 L639.03,290.28 L639.07,291.52 L639.12,292.77 L639.17,294.02 L639.22,295.27 L639.27,296.52 L639.31,297.76 L639.36,299.01 L639.41,300.26 L639.45,301.50 L639.50,302.74 L639.54,303.98 L639.59,305.21 L639.63,306.44 L639.68,307.67 L639.72,308.89 L639.77,310.11 L639.81,311.33 L639.85,312.55 L639.90,313.77 L639.94,314.98 L639.98,316.19 L640.03,317.40 L640.07,318.60 L640.11,319.81 L640.15,321.01 L640.19,322.21 L640.23,323.41 L640.28,324.61 L640.32,325.81 L640.36,327.00 L640.40,328.20 L640.44,329.39 L640.48,330.59 L640.52,331.78 L640.56,332.97 L640.60,334.16 L640.63,335.35 L640.67,336.54 L640.71,337.73 L640.75,338.92 L640.79,340.10 L640.83,341.29 L640.87,342.48 L640.90,343.67 L640.94,344.86 L640.98,346.05 L641.02,347.24 L641.06,348.43 L641.09,349.62 L641.13,350.81 L641.17,352.00 L641.20,353.19 L641.24,354.38 L641.28,355.58 L641.31,356.77 L641.35,357.96 L641.39,359.15 L641.42,360.35 L641.46,361.54 L641.50,362.73 L641.53,363.93 L641.57,365.12 L641.61,366.31 L641.64,367.51 L641.68,368.70 L641.72,369.90 L641.75,371.09 L641.79,372.29 L641.82,373.48 L641.86,374.68 L641.90,375.88 L641.93,377.07 L641.97,378.27 L642.00,379.46 L642.04,380.66 L642.08,381.86 L642.11,383.06 L642.15,384.25 L642.19,385.45 L642.22,386.65 L642.26,387.85 L642.30,389.04 L642.33,390.24 L642.37,391.44 L642.40,392.64 L642.44,393.84 L642.48,395.04 L642.52,396.23 L642.55,397.43 L642.59,398.63 L642.63,399.83 L642.66,401.03 L642.70,402.23 L642.74,403.43 L642.78,404.63 L642.81,405.83 L642.85,407.03 L642.89,408.23 L642.93,409.43 L642.97,410.63 L643.00,411.83 L643.04,413.03 L643.08,414.23 L643.12,415.43 L643.16,416.63 L643.20,417.83 L643.24,419.04 L643.28,420.24 L643.32,421.44 L643.36,422.64 L643.40,423.84 L643.44,425.04 L643.48,426.24 L643.52,427.44 L643.56,428.64 L643.60,429.85 L643.64,431.05 L643.69,432.25 L643.73,433.45 L643.77,434.65 L643.81,435.85 L643.86,437.05 L643.90,438.26 L643.94,439.46 L643.99,440.66 L644.03,441.86 L644.07,443.06 L644.12,444.26 L644.16,445.47 L644.21,446.67 L644.25,447.87 L644.30,449.07 L644.35,450.27 L644.39,451.47 L644.44,452.67 L644.49,453.88 L644.53,455.08 L644.58,456.28 L644.63,457.48 L644.68,458.68 L644.73,459.88 L644.77,461.08 L644.82,462.28 L644.87,463.48 L644.92,464.68 L644.97,465.89 L645.02,467.09 L645.08,468.29 L645.13,469.49 L645.18,470.69 L645.23,471.89 L645.28,473.09 L645.34,474.29 L645.39,475.49 L645.44,476.69 L645.50,477.89 L645.55,479.09 L645.61,480.29 L645.66,481.49 L645.72,482.69 L645.77,483.89 L645.83,485.09 L645.89,486.29 L645.94,487.49 L646.00,488.69 L646.06,489.89 L646.12,491.09 L646.18,492.29 L646.23,493.49 L646.29,494.69 L646.35,495.89 L646.41,497.09 L646.47,498.29 L646.54,499.49 L646.60,500.69 L646.66,501.89 L646.72,503.09 L646.78,504.28 L646.85,505.48 L646.91,506.68 L646.97,507.88 L647.04,509.08 L647.10,510.28 L647.17,511.48 L647.23,512.68 L647.30,513.87 L647.37,515.07 L647.43,516.27 L647.50,517.47 L647.57,518.67 L647.63,519.87 L647.70,521.06 L647.77,522.26 L647.84,523.46 L647.91,524.66 L647.98,525.86 L648.05,527.05 L648.12,528.25 L648.19,529.45 L648.27,530.65 L648.34,531.84 L648.41,533.04 L648.48,534.24 L648.56,535.43 L648.63,536.63 L648.71,537.83 L648.78,539.03 L648.86,540.22 L648.93,541.42 L649.01,542.62 L649.09,543.81 L649.16,545.01 L649.24,546.20 L649.32,547.40 L649.40,548.60 L649.48,549.79 L649.56,550.99 L649.64,552.18 L649.72,553.38 L649.80,554.58 L649.88,555.77 L649.97,556.97 L650.05,558.16 L650.13,559.36 L650.21,560.55 L650.30,561.75 L650.38,562.94 L650.47,564.14 L650.55,565.33 L650.64,566.53 L650.73,567.72 L650.81,568.92 L650.90,570.11 L650.98,571.31 L651.07,572.50 L651.16,573.69 L651.24,574.89 L651.33,576.08 L651.42,577.28 L651.50,578.47 L651.59,579.66 L651.67,580.86 L651.76,582.05 L651.84,583.24 L651.93,584.44 L652.01,585.63 L652.10,586.82 L652.18,588.01 L652.26,589.21 L652.35,590.40 L652.43,591.59 L652.51,592.79 L652.59,593.98 L652.67,595.17 L652.75,596.36 L652.83,597.55 L652.91,598.75 L652.99,599.94 L653.06,601.13 L653.14,602.33 L653.22,603.52 L653.30,604.71 L653.37,605.91 L653.45,607.10 L653.53,608.30 L653.60,609.50 L653.68,610.69 L653.76,611.89 L653.84,613.09 L653.91,614.29 L653.99,615.49 L654.07,616.69 L654.15,617.90 L654.22,619.10 L654.30,620.31 L654.38,621.51 L654.46,622.72 L654.54,623.93 L654.62,625.14 L654.70,626.35 L654.79,627.56 L654.87,628.78 L654.95,630.00 L655.04,631.21 L655.12,632.44 L655.21,633.66 L655.30,634.88 L655.39,636.11 L655.48,637.33 L655.57,638.56 L655.66,639.80 L655.75,641.03 L655.84,642.26 L655.94,643.50 L656.03,644.73 L656.13,645.96 L656.22,647.19 L656.31,648.41 L656.41,649.64 L656.50,650.85 L656.59,652.07 L656.69,653.27 L656.78,654.47 L656.87,655.67 L656.95,656.85 L657.04,658.03 L657.12,659.20 L657.20,660.36 L657.28,661.51 L657.36,662.64 L657.44,663.77 L657.51,664.88 L657.58,665.98 L657.64,667.07 L657.71,668.14 L657.76,669.20 L657.82,670.24 L657.88,671.28 L657.93,672.32 L657.99,673.36 L658.05,674.41 L658.11,675.46 L658.17,676.53 L658.24,677.62 L658.32,678.73 L658.40,679.87 L658.49,681.03 L658.59,682.23 L658.70,683.47 L658.82,684.75 L658.95,686.08 L659.09,687.46 L659.25,688.89 L659.42,690.38 L659.61,691.93 L659.82,693.55 L660.04,695.22 L660.28,696.90 L660.54,698.56 L660.80,700.14 L661.08,701.61 L661.36,702.92 L661.65,704.03 L661.95,704.90 L662.25,705.49 L662.56,705.75 L662.86,705.64 L663.17,705.16 L663.47,704.36 L663.76,703.30 L664.04,702.02 L664.31,700.60 L664.57,699.07 L664.81,697.49 L665.02,695.92 L665.22,694.41 L665.39,692.95 L665.54,691.54 L665.67,690.18 L665.79,688.87 L665.89,687.60 L665.98,686.37 L666.05,685.17 L666.11,684.00 L666.16,682.85 L666.21,681.73 L666.24,680.62 L666.28,679.53 L666.31,678.45 L666.33,677.38 L666.36,676.31 L666.38,675.24 L666.41,674.16 L666.44,673.08 L666.48,671.98 L666.53,670.87 L666.58,669.75 L666.63,668.61 L666.70,667.45 L666.76,666.29 L666.84,665.11 L666.92,663.93 L667.00,662.73 L667.09,661.53 L667.18,660.32 L667.28,659.11 L667.38,657.89 L667.48,656.66 L667.58,655.44 L667.69,654.21 L667.80,652.98 L667.91,651.76 L668.03,650.53 L668.15,649.31 L668.26,648.09 L668.38,646.87 L668.50,645.66 L668.62,644.46 L668.74,643.26 L668.85,642.07 L668.97,640.88 L669.09,639.69 L669.21,638.50 L669.32,637.30 L669.43,636.11 L669.55,634.91 L669.68,633.72 L669.81,632.53 L669.96,631.35 L670.12,630.18 L670.31,629.02 L670.51,627.84 L670.75,626.66 L671.01,625.45 L671.30,624.23 L671.63,622.98 L672.00,621.72 L672.41,620.48 L672.95,620.14 L673.57,621.19 L674.02,622.33 L674.33,623.49 L674.54,624.64 L674.67,625.81 L674.77,626.97 L674.87,628.14 L674.97,629.32 L675.08,630.49 L675.19,631.68 L675.30,632.86 L675.42,634.05 L675.53,635.24 L675.63,636.43 L675.74,637.63 L675.84,638.82 L675.94,640.02 L676.04,641.22 L676.13,642.43 L676.23,643.63 L676.32,644.83 L676.41,646.04 L676.50,647.24 L676.59,648.45 L676.67,649.65 L676.76,650.86 L676.84,652.06 L676.93,653.27 L677.01,654.47 L677.09,655.67 L677.17,656.88 L677.26,658.08 L677.33,659.28 L677.41,660.48 L677.49,661.69 L677.57,662.89 L677.65,664.09 L677.72,665.29 L677.80,666.49 L677.87,667.69 L677.95,668.89 L678.02,670.09 L678.09,671.29 L678.17,672.49 L678.24,673.69 L678.31,674.88 L678.38,676.08 L678.45,677.28 L678.52,678.48 L678.59,679.68 L678.66,680.87 L678.73,682.07 L678.80,683.27 L678.87,684.46 L678.93,685.66 L679.00,686.86 L679.07,688.05 L679.14,689.25 L679.21,690.44 L679.27,691.64 L679.34,692.84 L679.41,694.03 L679.47,695.23 L679.54,696.42 L679.61,697.62 L679.67,698.81 L679.74,700.01 L679.81,701.20 L679.88,702.40 L679.94,703.59 L680.01,704.79 L680.08,705.98 L680.14,707.17 L680.21,708.37 L680.28,709.56 L680.35,710.76 L680.42,711.95 L680.49,713.15 L680.55,714.34 L680.62,715.53 L680.69,716.73 L680.76,717.92 L680.83,719.12 L680.91,720.31 L680.98,721.50 L681.05,722.70 L681.12,723.89 L681.19,725.09 L681.27,726.28 L681.34,727.48 L681.42,728.67 L681.49,729.87 L681.57,731.06 L681.64,732.26 L681.72,733.45 L681.80,734.65 L681.88,735.84 L681.96,737.04 L682.04,738.23 L682.12,739.43 L682.20,740.62 L682.28,741.82 L682.36,743.01 L682.44,744.21 L682.53,745.41 L682.61,746.60 L682.70,747.80 L682.78,749.00 L682.87,750.19 L682.96,751.39 L683.05,752.59 L683.14,753.79 L683.23,754.98 L683.32,756.18 L683.41,757.38 L683.50,758.58 L683.59,759.78 L683.69,760.98 L683.78,762.18 L683.88,763.38 L683.97,764.58 L684.07,765.78 L684.17,766.98 L684.26,768.18 L684.36,769.38 L684.46,770.58 L684.56,771.78 L684.66,772.98 L684.77,774.19 L684.87,775.39 L684.97,776.59 L685.08,777.80 L685.18,779.00 L685.29,780.20 L685.40,781.41 L685.51,782.61 L685.61,783.82 L685.72,785.02 L685.83,786.23 L685.95,787.44 L686.06,788.65 L686.17,789.85 L686.29,791.06 L686.40,792.27 L686.52,793.47 L686.65,794.68 L686.78,795.88 L686.92,797.08 L687.06,798.28 L687.22,799.47 L687.39,800.65 L687.57,801.83 L687.77,803.00 L687.98,804.16 L688.21,805.31 L688.45,806.46 L688.72,807.59 L689.01,808.71 L689.33,809.82 L689.68,810.92 L690.09,812.00 L690.55,813.07 L691.08,814.12 L691.70,815.16 L692.40,816.18 L693.21,817.18 L694.11,818.14 L695.10,819.00 L696.16,819.71 L697.26,820.19 L700.75,820.19 L701.94,820.15 L703.15,820.05 L704.37,820.02 L705.59,820.03 L706.80,820.07 L708.02,820.12 L709.23,820.17 L710.43,820.19 L721.18,820.19 L722.39,820.18 L723.59,820.17 L724.80,820.16 L726.01,820.15 L727.21,820.15 L728.42,820.15 L729.62,820.16 L730.81,820.18 L732.00,820.19 L906.85,820.19" stroke="#FF0000" stroke-dasharray="6.25 6.25"/>
</g>
<g fill="none" stroke="#000" stroke-width="1.5625" stroke-linecap="round" stroke-linejoin="round">
<rect x="123" y="123" width="814" height="724"/>
<path d="M217.00,847 L872.80,847"/>
<path d="M217.00,847 L217.00,862"/>
<path d="M326.30,847 L326.30,862"/>
<path d="M435.60,847 L435.60,862"/>
<path d="M544.90,847 L544.90,862"/>
<path d="M654.20,847 L654.20,862"/>
<path d="M763.50,847 L763.50,862"/>
<path d="M872.80,847 L872.80,862"/>
<path d="M123,820.19 L123,263.32"/>
<path d="M123,820.19 L108,820.19"/>
<path d="M123,634.57 L108,634.57"/>
<path d="M123,448.94 L108,448.94"/>
<path d="M123,263.32 L108,263.32"/>
</g>
<g font-family="'Liberation Sans', Arial, Helvetica, sans-serif" fill="#000" stroke="#000" stroke-width="0.2">
<text x="529.0" y="72.2" font-size="29.95" font-weight="bold" text-anchor="middle" stroke="none">number read ratio upf1_1/WT_UPF1_1</text>
<text x="217.00" y="900.4" font-size="25.4" text-anchor="middle">-8</text>
<text x="326.30" y="900.4" font-size="25.4" text-anchor="middle">-6</text>
<text x="435.60" y="900.4" font-size="25.4" text-anchor="middle">-4</text>
<text x="544.90" y="900.4" font-size="25.4" text-anchor="middle">-2</text>
<text x="654.20" y="900.4" font-size="25.4" text-anchor="middle">0</text>
<text x="763.50" y="900.4" font-size="25.4" text-anchor="middle">2</text>
<text x="872.80" y="900.4" font-size="25.4" text-anchor="middle">4</text>
<text x="529.8" y="961" font-size="25.4" text-anchor="middle">log2 ratio</text>
<text transform="translate(86.5,819.49) rotate(-90)" font-size="25.4" text-anchor="middle">0.0</text>
<text transform="translate(86.5,633.87) rotate(-90)" font-size="25.4" text-anchor="middle">0.5</text>
<text transform="translate(86.5,448.24) rotate(-90)" font-size="25.4" text-anchor="middle">1.0</text>
<text transform="translate(86.5,262.62) rotate(-90)" font-size="25.4" text-anchor="middle">1.5</text>
<text transform="translate(27,486) rotate(-90)" font-size="25.5" text-anchor="middle">density</text>
<text x="213.2" y="163.8" font-size="25.2">gene (sd=0.75)</text>
<text x="213.2" y="193.8" font-size="25.2">XUT (sd=1.02)</text>
<text x="213.2" y="223.8" font-size="25.2">NUT (sd=0.95)</text>
<text x="213.2" y="253.8" font-size="25.2">CUT (sd=0.89)</text>
<text x="213.2" y="283.8" font-size="25.2">SUT (sd=0.99)</text>
<text x="213.2" y="313.8" font-size="25.2">tRNA (sd=0.68)</text>
<text x="213.2" y="343.8" font-size="25.2">snoRNA (sd=0.26)</text>
<text x="213.2" y="373.8" font-size="25.2">ncRNA (sd=1.01)</text>
<text x="213.2" y="403.8" font-size="25.2">snRNA (sd=0.35)</text>
</g>
<g fill="none" stroke-width="1.5625" stroke-linecap="round">
<path d="M145.5,153 L189.9,153" stroke="#000000"/>
<path d="M145.5,183 L189.9,183" stroke="#FF0000"/>
<path d="M145.5,213 L189.9,213" stroke="#00CD00"/>
<path d="M145.5,243 L189.9,243" stroke="#0000FF"/>
<path d="M145.5,273 L189.9,273" stroke="#00FFFF"/>
<path d="M145.5,303 L189.9,303" stroke="#FF00FF"/>
<path d="M145.5,333 L189.9,333" stroke="#FFFF00"/>
<path d="M145.5,363 L189.9,363" stroke="#BEBEBE"/>
<path d="M145.5,393 L189.9,393" stroke="#FF0000" stroke-dasharray="6.25 6.25"/>
</g>
</svg>
</body></html>
